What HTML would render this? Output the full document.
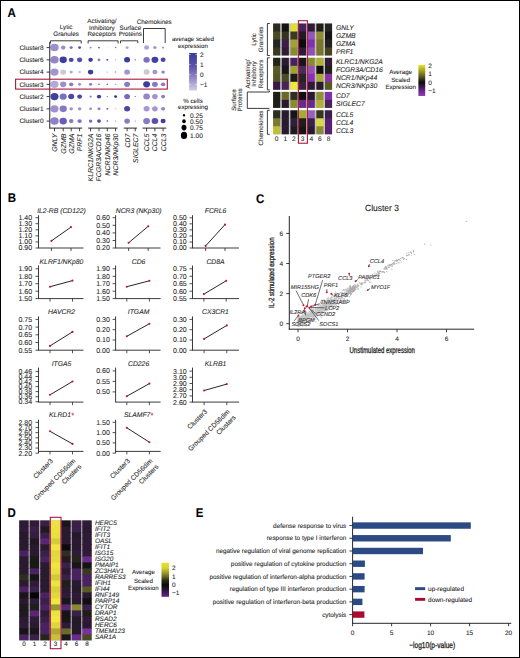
<!DOCTYPE html>
<html><head><meta charset="utf-8"><style>html,body{margin:0;padding:0;background:#fff;font-family:"Liberation Sans", sans-serif;}svg{display:block;}</style></head><body>
<svg width="520" height="658" viewBox="0 0 520 658" font-family="'Liberation Sans', sans-serif">
<style>text{stroke:#262626;stroke-width:0.08px;text-rendering:geometricPrecision;}</style>
<rect width="520" height="658" fill="#fff"/>
<text transform="translate(7.6,17.35) scale(0.91,1)" font-size="12.65" font-weight="bold" fill="#000">A</text>
<text transform="translate(7.7,202.2) scale(0.91,1)" font-size="12.65" font-weight="bold" fill="#000">B</text>
<text transform="translate(256.0,202.5) scale(0.91,1)" font-size="12.65" font-weight="bold" fill="#000">C</text>
<text transform="translate(7.6,516.8) scale(0.91,1)" font-size="12.65" font-weight="bold" fill="#000">D</text>
<text transform="translate(195.8,517.1) scale(0.91,1)" font-size="12.65" font-weight="bold" fill="#000">E</text>
<text x="43.60" y="49.90" font-size="6.5" text-anchor="end" fill="#262626" >Cluster8</text>
<line x1="46.60" y1="47.60" x2="49.75" y2="47.60" stroke="#262626" stroke-width="0.9"/>
<ellipse cx="54.50" cy="47.60" rx="4.16" ry="3.76" fill="#9d8ecd"/>
<ellipse cx="63.20" cy="47.60" rx="2.29" ry="2.07" fill="#9d8ecd"/>
<ellipse cx="71.20" cy="47.60" rx="1.56" ry="1.41" fill="#7a6ac0"/>
<ellipse cx="79.60" cy="47.60" rx="1.46" ry="1.32" fill="#5a4cb0"/>
<ellipse cx="90.60" cy="47.60" rx="1.04" ry="0.94" fill="#9080c8"/>
<ellipse cx="99.00" cy="47.60" rx="1.04" ry="0.94" fill="#7868bc"/>
<ellipse cx="107.30" cy="47.60" rx="0.47" ry="0.42" fill="#c0b8dc"/>
<ellipse cx="115.60" cy="47.60" rx="0.83" ry="0.75" fill="#8070c0"/>
<ellipse cx="127.10" cy="47.60" rx="1.56" ry="1.41" fill="#b0a4d8"/>
<ellipse cx="135.20" cy="47.60" rx="0.47" ry="0.42" fill="#c0b8dc"/>
<ellipse cx="146.60" cy="47.60" rx="2.50" ry="2.26" fill="#b0a4d8"/>
<ellipse cx="154.90" cy="47.60" rx="1.66" ry="1.50" fill="#a094d0"/>
<ellipse cx="163.10" cy="47.60" rx="1.14" ry="1.03" fill="#a094d0"/>
<text x="43.60" y="62.15" font-size="6.5" text-anchor="end" fill="#262626" >Cluster6</text>
<line x1="46.60" y1="59.85" x2="49.75" y2="59.85" stroke="#262626" stroke-width="0.9"/>
<ellipse cx="54.50" cy="59.85" rx="4.16" ry="3.76" fill="#9484c8"/>
<ellipse cx="63.20" cy="59.85" rx="3.64" ry="3.29" fill="#3c3d9c"/>
<ellipse cx="71.20" cy="59.85" rx="2.44" ry="2.21" fill="#4a48a4"/>
<ellipse cx="79.60" cy="59.85" rx="2.60" ry="2.35" fill="#5a50ac"/>
<ellipse cx="90.60" cy="59.85" rx="2.29" ry="2.07" fill="#3c3d9c"/>
<ellipse cx="99.00" cy="59.85" rx="1.46" ry="1.32" fill="#8a7ac4"/>
<ellipse cx="107.30" cy="59.85" rx="1.04" ry="0.94" fill="#4a48a4"/>
<ellipse cx="115.60" cy="59.85" rx="0.73" ry="0.66" fill="#b0a8d8"/>
<ellipse cx="127.10" cy="59.85" rx="3.02" ry="2.73" fill="#3c3d9c"/>
<ellipse cx="135.20" cy="59.85" rx="0.73" ry="0.66" fill="#5a50ac"/>
<ellipse cx="146.60" cy="59.85" rx="3.22" ry="2.91" fill="#8070c0"/>
<ellipse cx="154.90" cy="59.85" rx="3.43" ry="3.10" fill="#4040a0"/>
<ellipse cx="163.10" cy="59.85" rx="2.50" ry="2.26" fill="#4a48a4"/>
<text x="43.60" y="74.40" font-size="6.5" text-anchor="end" fill="#262626" >Cluster4</text>
<line x1="46.60" y1="72.10" x2="49.75" y2="72.10" stroke="#262626" stroke-width="0.9"/>
<ellipse cx="54.50" cy="72.10" rx="4.06" ry="3.67" fill="#a494d0"/>
<ellipse cx="63.20" cy="72.10" rx="2.91" ry="2.63" fill="#cbcbcf"/>
<ellipse cx="71.20" cy="72.10" rx="1.56" ry="1.41" fill="#b0a4d8"/>
<ellipse cx="79.60" cy="72.10" rx="1.46" ry="1.32" fill="#cbcbcf"/>
<ellipse cx="90.60" cy="72.10" rx="2.70" ry="2.44" fill="#3c3d9c"/>
<ellipse cx="99.00" cy="72.10" rx="0.57" ry="0.52" fill="#d0d0d4"/>
<ellipse cx="107.30" cy="72.10" rx="0.73" ry="0.66" fill="#b8b0dc"/>
<ellipse cx="115.60" cy="72.10" rx="0.83" ry="0.75" fill="#a094d0"/>
<ellipse cx="127.10" cy="72.10" rx="2.91" ry="2.63" fill="#a494d0"/>
<ellipse cx="135.20" cy="72.10" rx="0.42" ry="0.38" fill="#c8c0e0"/>
<ellipse cx="146.60" cy="72.10" rx="3.02" ry="2.73" fill="#cbcbcf"/>
<ellipse cx="154.90" cy="72.10" rx="2.50" ry="2.26" fill="#a494d0"/>
<ellipse cx="163.10" cy="72.10" rx="1.77" ry="1.60" fill="#9484c8"/>
<text x="43.60" y="86.65" font-size="6.5" text-anchor="end" fill="#262626" >Cluster3</text>
<line x1="46.60" y1="84.35" x2="49.75" y2="84.35" stroke="#262626" stroke-width="0.9"/>
<ellipse cx="54.50" cy="84.35" rx="4.06" ry="3.67" fill="#b4a8dc"/>
<ellipse cx="63.20" cy="84.35" rx="3.12" ry="2.82" fill="#9d8ecd"/>
<ellipse cx="71.20" cy="84.35" rx="2.18" ry="1.97" fill="#8a7ac4"/>
<ellipse cx="79.60" cy="84.35" rx="1.56" ry="1.41" fill="#9d8ecd"/>
<ellipse cx="90.60" cy="84.35" rx="1.56" ry="1.41" fill="#8a7ac4"/>
<ellipse cx="99.00" cy="84.35" rx="1.04" ry="0.94" fill="#9d8ecd"/>
<ellipse cx="107.30" cy="84.35" rx="0.83" ry="0.75" fill="#6a5cb8"/>
<ellipse cx="115.60" cy="84.35" rx="0.73" ry="0.66" fill="#9d8ecd"/>
<ellipse cx="127.10" cy="84.35" rx="2.91" ry="2.63" fill="#8a7ac4"/>
<ellipse cx="135.20" cy="84.35" rx="0.42" ry="0.38" fill="#a094d0"/>
<ellipse cx="146.60" cy="84.35" rx="3.43" ry="3.10" fill="#3c3d9c"/>
<ellipse cx="154.90" cy="84.35" rx="2.91" ry="2.63" fill="#8a7ac4"/>
<ellipse cx="163.10" cy="84.35" rx="2.18" ry="1.97" fill="#8a7ac4"/>
<text x="43.60" y="98.90" font-size="6.5" text-anchor="end" fill="#262626" >Cluster2</text>
<line x1="46.60" y1="96.60" x2="49.75" y2="96.60" stroke="#262626" stroke-width="0.9"/>
<ellipse cx="54.50" cy="96.60" rx="4.00" ry="3.62" fill="#3c429e"/>
<ellipse cx="63.20" cy="96.60" rx="3.54" ry="3.20" fill="#7a6ebf"/>
<ellipse cx="71.20" cy="96.60" rx="3.02" ry="2.73" fill="#4a48a4"/>
<ellipse cx="79.60" cy="96.60" rx="2.44" ry="2.21" fill="#4a48a4"/>
<ellipse cx="90.60" cy="96.60" rx="1.14" ry="1.03" fill="#9080c8"/>
<ellipse cx="99.00" cy="96.60" rx="2.18" ry="1.97" fill="#4040a0"/>
<ellipse cx="107.30" cy="96.60" rx="0.73" ry="0.66" fill="#8070c0"/>
<ellipse cx="115.60" cy="96.60" rx="1.46" ry="1.32" fill="#2e3494"/>
<ellipse cx="127.10" cy="96.60" rx="2.91" ry="2.63" fill="#7a6abc"/>
<ellipse cx="135.20" cy="96.60" rx="0.57" ry="0.52" fill="#3c3d9c"/>
<ellipse cx="146.60" cy="96.60" rx="3.33" ry="3.01" fill="#9484c8"/>
<ellipse cx="154.90" cy="96.60" rx="2.81" ry="2.54" fill="#a094d0"/>
<ellipse cx="163.10" cy="96.60" rx="1.98" ry="1.79" fill="#8a7ac4"/>
<text x="43.60" y="111.15" font-size="6.5" text-anchor="end" fill="#262626" >Cluster1</text>
<line x1="46.60" y1="108.85" x2="49.75" y2="108.85" stroke="#262626" stroke-width="0.9"/>
<ellipse cx="54.50" cy="108.85" rx="4.06" ry="3.67" fill="#a090d0"/>
<ellipse cx="63.20" cy="108.85" rx="3.64" ry="3.29" fill="#8878c4"/>
<ellipse cx="71.20" cy="108.85" rx="1.77" ry="1.60" fill="#a090d0"/>
<ellipse cx="79.60" cy="108.85" rx="1.77" ry="1.60" fill="#a090d0"/>
<ellipse cx="90.60" cy="108.85" rx="1.46" ry="1.32" fill="#a090d0"/>
<ellipse cx="99.00" cy="108.85" rx="1.56" ry="1.41" fill="#9080c8"/>
<ellipse cx="107.30" cy="108.85" rx="1.04" ry="0.94" fill="#6a5cb8"/>
<ellipse cx="115.60" cy="108.85" rx="0.73" ry="0.66" fill="#c0b8dc"/>
<ellipse cx="127.10" cy="108.85" rx="3.02" ry="2.73" fill="#4a48a4"/>
<ellipse cx="135.20" cy="108.85" rx="0.42" ry="0.38" fill="#a094d0"/>
<ellipse cx="146.60" cy="108.85" rx="3.02" ry="2.73" fill="#a898d4"/>
<ellipse cx="154.90" cy="108.85" rx="2.81" ry="2.54" fill="#a494d0"/>
<ellipse cx="163.10" cy="108.85" rx="1.98" ry="1.79" fill="#9484c8"/>
<text x="43.60" y="123.40" font-size="6.5" text-anchor="end" fill="#262626" >Cluster0</text>
<line x1="46.60" y1="121.10" x2="49.75" y2="121.10" stroke="#262626" stroke-width="0.9"/>
<ellipse cx="54.50" cy="121.10" rx="4.16" ry="3.76" fill="#9080c8"/>
<ellipse cx="63.20" cy="121.10" rx="3.74" ry="3.38" fill="#6a5cb4"/>
<ellipse cx="71.20" cy="121.10" rx="2.29" ry="2.07" fill="#8a7ac4"/>
<ellipse cx="79.60" cy="121.10" rx="2.18" ry="1.97" fill="#8070c0"/>
<ellipse cx="90.60" cy="121.10" rx="1.77" ry="1.60" fill="#7a6abc"/>
<ellipse cx="99.00" cy="121.10" rx="1.98" ry="1.79" fill="#5a4cac"/>
<ellipse cx="107.30" cy="121.10" rx="0.83" ry="0.75" fill="#4a48a4"/>
<ellipse cx="115.60" cy="121.10" rx="0.73" ry="0.66" fill="#a094d0"/>
<ellipse cx="127.10" cy="121.10" rx="2.81" ry="2.54" fill="#8a7ac4"/>
<ellipse cx="135.20" cy="121.10" rx="0.57" ry="0.52" fill="#8070c0"/>
<ellipse cx="146.60" cy="121.10" rx="3.43" ry="3.10" fill="#8a7ac4"/>
<ellipse cx="154.90" cy="121.10" rx="3.33" ry="3.01" fill="#5a50ac"/>
<ellipse cx="163.10" cy="121.10" rx="2.50" ry="2.26" fill="#3c3d9c"/>
<line x1="49.75" y1="42.00" x2="49.75" y2="128.60" stroke="#262626" stroke-width="1.0"/>
<line x1="49.75" y1="128.10" x2="82.20" y2="128.10" stroke="#262626" stroke-width="1.0"/>
<line x1="88.10" y1="128.10" x2="117.50" y2="128.10" stroke="#262626" stroke-width="1.0"/>
<line x1="123.75" y1="128.10" x2="137.00" y2="128.10" stroke="#262626" stroke-width="1.0"/>
<line x1="142.50" y1="128.10" x2="166.30" y2="128.10" stroke="#262626" stroke-width="1.0"/>
<line x1="54.50" y1="128.10" x2="54.50" y2="131.30" stroke="#262626" stroke-width="0.9"/>
<text transform="translate(56.95,133.6) rotate(-90)" font-size="6.95" text-anchor="end" font-style="italic" fill="#262626">GNLY</text>
<line x1="63.20" y1="128.10" x2="63.20" y2="131.30" stroke="#262626" stroke-width="0.9"/>
<text transform="translate(65.65,133.6) rotate(-90)" font-size="6.95" text-anchor="end" font-style="italic" fill="#262626">GZMB</text>
<line x1="71.20" y1="128.10" x2="71.20" y2="131.30" stroke="#262626" stroke-width="0.9"/>
<text transform="translate(73.65,133.6) rotate(-90)" font-size="6.95" text-anchor="end" font-style="italic" fill="#262626">GZMA</text>
<line x1="79.60" y1="128.10" x2="79.60" y2="131.30" stroke="#262626" stroke-width="0.9"/>
<text transform="translate(82.05,133.6) rotate(-90)" font-size="6.95" text-anchor="end" font-style="italic" fill="#262626">PRF1</text>
<line x1="90.60" y1="128.10" x2="90.60" y2="131.30" stroke="#262626" stroke-width="0.9"/>
<text transform="translate(93.05,133.6) rotate(-90)" font-size="6.95" text-anchor="end" font-style="italic" fill="#262626">KLRC1/NKG2A</text>
<line x1="99.00" y1="128.10" x2="99.00" y2="131.30" stroke="#262626" stroke-width="0.9"/>
<text transform="translate(101.45,133.6) rotate(-90)" font-size="6.95" text-anchor="end" font-style="italic" fill="#262626">FCGR3A/CD16</text>
<line x1="107.30" y1="128.10" x2="107.30" y2="131.30" stroke="#262626" stroke-width="0.9"/>
<text transform="translate(109.75,133.6) rotate(-90)" font-size="6.95" text-anchor="end" font-style="italic" fill="#262626">NCR1/NKp46</text>
<line x1="115.60" y1="128.10" x2="115.60" y2="131.30" stroke="#262626" stroke-width="0.9"/>
<text transform="translate(118.05,133.6) rotate(-90)" font-size="6.95" text-anchor="end" font-style="italic" fill="#262626">NCR3/NKp30</text>
<line x1="127.10" y1="128.10" x2="127.10" y2="131.30" stroke="#262626" stroke-width="0.9"/>
<text transform="translate(129.55,133.6) rotate(-90)" font-size="6.95" text-anchor="end" font-style="italic" fill="#262626">CD7</text>
<line x1="135.20" y1="128.10" x2="135.20" y2="131.30" stroke="#262626" stroke-width="0.9"/>
<text transform="translate(137.65,133.6) rotate(-90)" font-size="6.95" text-anchor="end" font-style="italic" fill="#262626">SIGLEC7</text>
<line x1="146.60" y1="128.10" x2="146.60" y2="131.30" stroke="#262626" stroke-width="0.9"/>
<text transform="translate(149.05,133.6) rotate(-90)" font-size="6.95" text-anchor="end" font-style="italic" fill="#262626">CCL5</text>
<line x1="154.90" y1="128.10" x2="154.90" y2="131.30" stroke="#262626" stroke-width="0.9"/>
<text transform="translate(157.35,133.6) rotate(-90)" font-size="6.95" text-anchor="end" font-style="italic" fill="#262626">CCL4</text>
<line x1="163.10" y1="128.10" x2="163.10" y2="131.30" stroke="#262626" stroke-width="0.9"/>
<text transform="translate(165.55,133.6) rotate(-90)" font-size="6.95" text-anchor="end" font-style="italic" fill="#262626">CCL3</text>
<path d="M50.4,43.5 V40.8 H81.2 V43.5" stroke="#262626" stroke-width="0.9" fill="none"/>
<path d="M88.1,43.5 V40.8 H118.1 V43.5" stroke="#262626" stroke-width="0.9" fill="none"/>
<path d="M120.5,43.2 V40.8 H137.8 V43.2" stroke="#262626" stroke-width="0.9" fill="none"/>
<path d="M143.5,43.0 V28.5 H165.2 V43.0" stroke="#262626" stroke-width="0.9" fill="none"/>
<text x="66.10" y="29.10" font-size="6.3" text-anchor="middle" fill="#262626" >Lytic</text>
<text x="66.10" y="35.60" font-size="6.3" text-anchor="middle" fill="#262626" >Granules</text>
<text x="101.90" y="23.30" font-size="6.3" text-anchor="middle" fill="#262626" >Activating/</text>
<text x="101.90" y="29.80" font-size="6.3" text-anchor="middle" fill="#262626" >Inhibitory</text>
<text x="101.90" y="36.30" font-size="6.3" text-anchor="middle" fill="#262626" >Receptors</text>
<text x="130.30" y="29.80" font-size="6.3" text-anchor="middle" fill="#262626" >Surface</text>
<text x="130.30" y="36.30" font-size="6.3" text-anchor="middle" fill="#262626" >Proteins</text>
<text x="154.20" y="24.30" font-size="6.3" text-anchor="middle" fill="#262626" >Chemokines</text>
<rect x="15.6" y="79.2" width="151.7" height="9.9" fill="none" stroke="#a8183c" stroke-width="1.1"/>
<text x="192.90" y="41.30" font-size="6.2" text-anchor="middle" fill="#262626" >average scaled</text>
<text x="192.90" y="47.60" font-size="6.2" text-anchor="middle" fill="#262626" >expression</text>
<defs><linearGradient id="gA" x1="0" y1="0" x2="0" y2="1"><stop offset="0" stop-color="#383c98"/><stop offset="0.35" stop-color="#5a52ac"/><stop offset="0.65" stop-color="#9284c6"/><stop offset="1" stop-color="#d2cce6"/></linearGradient><linearGradient id="gD" x1="0" y1="0" x2="0" y2="1"><stop offset="0" stop-color="#e8e426"/><stop offset="0.15" stop-color="#d6d430"/><stop offset="0.27" stop-color="#a8a630"/><stop offset="0.40" stop-color="#6e6c20"/><stop offset="0.52" stop-color="#2a2a14"/><stop offset="0.65" stop-color="#0a0a0a"/><stop offset="0.78" stop-color="#261432"/><stop offset="0.90" stop-color="#4c1c64"/><stop offset="1" stop-color="#6c1e8c"/></linearGradient><linearGradient id="gH" x1="0" y1="0" x2="0" y2="1"><stop offset="0" stop-color="#e6e41e"/><stop offset="0.29" stop-color="#7c7a24"/><stop offset="0.56" stop-color="#0c0c0c"/><stop offset="0.82" stop-color="#662388"/><stop offset="1" stop-color="#9243b2"/></linearGradient></defs>
<rect x="189.1" y="53.0" width="7.8" height="37.5" fill="url(#gA)"/>
<line x1="189.10" y1="54.40" x2="190.60" y2="54.40" stroke="#fff" stroke-width="0.6"/>
<line x1="195.40" y1="54.40" x2="196.90" y2="54.40" stroke="#fff" stroke-width="0.6"/>
<text x="199.90" y="56.70" font-size="6.5" text-anchor="start" fill="#262626" >2</text>
<line x1="189.10" y1="64.60" x2="190.60" y2="64.60" stroke="#fff" stroke-width="0.6"/>
<line x1="195.40" y1="64.60" x2="196.90" y2="64.60" stroke="#fff" stroke-width="0.6"/>
<text x="199.90" y="66.90" font-size="6.5" text-anchor="start" fill="#262626" >1</text>
<line x1="189.10" y1="74.60" x2="190.60" y2="74.60" stroke="#fff" stroke-width="0.6"/>
<line x1="195.40" y1="74.60" x2="196.90" y2="74.60" stroke="#fff" stroke-width="0.6"/>
<text x="199.90" y="76.90" font-size="6.5" text-anchor="start" fill="#262626" >0</text>
<line x1="189.10" y1="84.40" x2="190.60" y2="84.40" stroke="#fff" stroke-width="0.6"/>
<line x1="195.40" y1="84.40" x2="196.90" y2="84.40" stroke="#fff" stroke-width="0.6"/>
<text x="199.90" y="86.70" font-size="6.5" text-anchor="start" fill="#262626" >−1</text>
<text x="193.00" y="102.70" font-size="6.2" text-anchor="middle" fill="#262626" >% cells</text>
<text x="193.00" y="109.20" font-size="6.2" text-anchor="middle" fill="#262626" >expressing</text>
<ellipse cx="184.0" cy="115.2" rx="1.09" ry="1.24" fill="#000"/>
<text x="190.00" y="118.00" font-size="6.6" text-anchor="start" fill="#262626" >0.25</text>
<ellipse cx="184.0" cy="121.2" rx="1.80" ry="2.05" fill="#000"/>
<text x="190.00" y="124.20" font-size="6.6" text-anchor="start" fill="#262626" >0.50</text>
<ellipse cx="184.0" cy="127.6" rx="2.47" ry="2.81" fill="#000"/>
<text x="190.00" y="129.90" font-size="6.6" text-anchor="start" fill="#262626" >0.75</text>
<ellipse cx="184.0" cy="135.4" rx="3.13" ry="3.56" fill="#000"/>
<text x="190.00" y="138.20" font-size="6.6" text-anchor="start" fill="#262626" >1.00</text>
<rect x="273.40" y="23.50" width="58.40" height="32.00" fill="#c2c2c6"/>
<rect x="273.10" y="23.50" width="7.1" height="8.6" fill="#2c2c1e"/>
<rect x="281.75" y="23.50" width="7.1" height="8.6" fill="#131313"/>
<rect x="290.40" y="23.50" width="7.1" height="8.6" fill="#e0dc3e"/>
<rect x="299.05" y="23.50" width="7.1" height="8.6" fill="#44245a"/>
<rect x="307.70" y="23.50" width="7.1" height="8.6" fill="#2e1c34"/>
<rect x="316.35" y="23.50" width="7.1" height="8.6" fill="#1f1f18"/>
<rect x="325.00" y="23.50" width="7.1" height="8.6" fill="#262620"/>
<rect x="273.10" y="31.50" width="7.1" height="8.6" fill="#4c4a22"/>
<rect x="281.75" y="31.50" width="7.1" height="8.6" fill="#363420"/>
<rect x="290.40" y="31.50" width="7.1" height="8.6" fill="#3a3a20"/>
<rect x="299.05" y="31.50" width="7.1" height="8.6" fill="#201a24"/>
<rect x="307.70" y="31.50" width="7.1" height="8.6" fill="#9654b4"/>
<rect x="316.35" y="31.50" width="7.1" height="8.6" fill="#8e8e30"/>
<rect x="325.00" y="31.50" width="7.1" height="8.6" fill="#141414"/>
<rect x="273.10" y="39.50" width="7.1" height="8.6" fill="#262620"/>
<rect x="281.75" y="39.50" width="7.1" height="8.6" fill="#3c1c48"/>
<rect x="290.40" y="39.50" width="7.1" height="8.6" fill="#a0a034"/>
<rect x="299.05" y="39.50" width="7.1" height="8.6" fill="#0c0c0c"/>
<rect x="307.70" y="39.50" width="7.1" height="8.6" fill="#8430ac"/>
<rect x="316.35" y="39.50" width="7.1" height="8.6" fill="#78782c"/>
<rect x="325.00" y="39.50" width="7.1" height="8.6" fill="#222220"/>
<rect x="273.10" y="47.50" width="7.1" height="8.0" fill="#3a3a20"/>
<rect x="281.75" y="47.50" width="7.1" height="8.0" fill="#2e1c36"/>
<rect x="290.40" y="47.50" width="7.1" height="8.0" fill="#8a8a30"/>
<rect x="299.05" y="47.50" width="7.1" height="8.0" fill="#2e1c36"/>
<rect x="307.70" y="47.50" width="7.1" height="8.0" fill="#9050b0"/>
<rect x="316.35" y="47.50" width="7.1" height="8.0" fill="#76762e"/>
<rect x="325.00" y="47.50" width="7.1" height="8.0" fill="#46441f"/>
<rect x="273.40" y="57.80" width="58.40" height="32.00" fill="#c2c2c6"/>
<rect x="273.10" y="57.80" width="7.1" height="8.6" fill="#222218"/>
<rect x="281.75" y="57.80" width="7.1" height="8.6" fill="#2a1a2f"/>
<rect x="290.40" y="57.80" width="7.1" height="8.6" fill="#4a2060"/>
<rect x="299.05" y="57.80" width="7.1" height="8.6" fill="#181418"/>
<rect x="307.70" y="57.80" width="7.1" height="8.6" fill="#8a8a30"/>
<rect x="316.35" y="57.80" width="7.1" height="8.6" fill="#b0b035"/>
<rect x="325.00" y="57.80" width="7.1" height="8.6" fill="#301a38"/>
<rect x="273.10" y="65.80" width="7.1" height="8.6" fill="#5a5a25"/>
<rect x="281.75" y="65.80" width="7.1" height="8.6" fill="#181518"/>
<rect x="290.40" y="65.80" width="7.1" height="8.6" fill="#a0a035"/>
<rect x="299.05" y="65.80" width="7.1" height="8.6" fill="#4a2a5a"/>
<rect x="307.70" y="65.80" width="7.1" height="8.6" fill="#9a50b0"/>
<rect x="316.35" y="65.80" width="7.1" height="8.6" fill="#101010"/>
<rect x="325.00" y="65.80" width="7.1" height="8.6" fill="#20201a"/>
<rect x="273.10" y="73.80" width="7.1" height="8.6" fill="#555522"/>
<rect x="281.75" y="73.80" width="7.1" height="8.6" fill="#4a4a22"/>
<rect x="290.40" y="73.80" width="7.1" height="8.6" fill="#1a1a18"/>
<rect x="299.05" y="73.80" width="7.1" height="8.6" fill="#252520"/>
<rect x="307.70" y="73.80" width="7.1" height="8.6" fill="#8a30b0"/>
<rect x="316.35" y="73.80" width="7.1" height="8.6" fill="#aaaa35"/>
<rect x="325.00" y="73.80" width="7.1" height="8.6" fill="#8a30a8"/>
<rect x="273.10" y="81.80" width="7.1" height="8.0" fill="#3a1a45"/>
<rect x="281.75" y="81.80" width="7.1" height="8.0" fill="#4a2258"/>
<rect x="290.40" y="81.80" width="7.1" height="8.0" fill="#f0e838"/>
<rect x="299.05" y="81.80" width="7.1" height="8.0" fill="#3a2045"/>
<rect x="307.70" y="81.80" width="7.1" height="8.0" fill="#2f1a35"/>
<rect x="316.35" y="81.80" width="7.1" height="8.0" fill="#2a1a30"/>
<rect x="325.00" y="81.80" width="7.1" height="8.0" fill="#5a5a25"/>
<rect x="273.40" y="91.90" width="58.40" height="16.00" fill="#c2c2c6"/>
<rect x="273.10" y="91.90" width="7.1" height="8.6" fill="#1f1f18"/>
<rect x="281.75" y="91.90" width="7.1" height="8.6" fill="#6a6a28"/>
<rect x="290.40" y="91.90" width="7.1" height="8.6" fill="#2f2f20"/>
<rect x="299.05" y="91.90" width="7.1" height="8.6" fill="#101010"/>
<rect x="307.70" y="91.90" width="7.1" height="8.6" fill="#2a1a30"/>
<rect x="316.35" y="91.90" width="7.1" height="8.6" fill="#909035"/>
<rect x="325.00" y="91.90" width="7.1" height="8.6" fill="#8030a8"/>
<rect x="273.10" y="99.90" width="7.1" height="8.0" fill="#1f1f18"/>
<rect x="281.75" y="99.90" width="7.1" height="8.0" fill="#2a1a2f"/>
<rect x="290.40" y="99.90" width="7.1" height="8.0" fill="#8a8a30"/>
<rect x="299.05" y="99.90" width="7.1" height="8.0" fill="#6a2a8a"/>
<rect x="307.70" y="99.90" width="7.1" height="8.0" fill="#6a2a8a"/>
<rect x="316.35" y="99.90" width="7.1" height="8.0" fill="#b0b035"/>
<rect x="325.00" y="99.90" width="7.1" height="8.0" fill="#4a2258"/>
<rect x="273.40" y="110.30" width="58.40" height="24.00" fill="#c2c2c6"/>
<rect x="273.10" y="110.30" width="7.1" height="8.6" fill="#2f2f1f"/>
<rect x="281.75" y="110.30" width="7.1" height="8.6" fill="#2a1a30"/>
<rect x="290.40" y="110.30" width="7.1" height="8.6" fill="#151515"/>
<rect x="299.05" y="110.30" width="7.1" height="8.6" fill="#a8a835"/>
<rect x="307.70" y="110.30" width="7.1" height="8.6" fill="#a060b8"/>
<rect x="316.35" y="110.30" width="7.1" height="8.6" fill="#353520"/>
<rect x="325.00" y="110.30" width="7.1" height="8.6" fill="#3a1f48"/>
<rect x="273.10" y="118.30" width="7.1" height="8.6" fill="#7a7a30"/>
<rect x="281.75" y="118.30" width="7.1" height="8.6" fill="#2a1a30"/>
<rect x="290.40" y="118.30" width="7.1" height="8.6" fill="#2f1f38"/>
<rect x="299.05" y="118.30" width="7.1" height="8.6" fill="#1f1f18"/>
<rect x="307.70" y="118.30" width="7.1" height="8.6" fill="#3a1f48"/>
<rect x="316.35" y="118.30" width="7.1" height="8.6" fill="#d8d840"/>
<rect x="325.00" y="118.30" width="7.1" height="8.6" fill="#5a2070"/>
<rect x="273.10" y="126.30" width="7.1" height="8.0" fill="#c0c038"/>
<rect x="281.75" y="126.30" width="7.1" height="8.0" fill="#2a1a2f"/>
<rect x="290.40" y="126.30" width="7.1" height="8.0" fill="#1f1a22"/>
<rect x="299.05" y="126.30" width="7.1" height="8.0" fill="#151515"/>
<rect x="307.70" y="126.30" width="7.1" height="8.0" fill="#2a1a2f"/>
<rect x="316.35" y="126.30" width="7.1" height="8.0" fill="#8a8a30"/>
<rect x="325.00" y="126.30" width="7.1" height="8.0" fill="#5a2070"/>
<text x="336.00" y="29.90" font-size="6.8" text-anchor="start" font-style="italic" fill="#262626" >GNLY</text>
<text x="336.00" y="37.90" font-size="6.8" text-anchor="start" font-style="italic" fill="#262626" >GZMB</text>
<text x="336.00" y="45.90" font-size="6.8" text-anchor="start" font-style="italic" fill="#262626" >GZMA</text>
<text x="336.00" y="53.90" font-size="6.8" text-anchor="start" font-style="italic" fill="#262626" >PRF1</text>
<text x="336.00" y="64.20" font-size="6.8" text-anchor="start" font-style="italic" fill="#262626" >KLRC1/NKG2A</text>
<text x="336.00" y="72.20" font-size="6.8" text-anchor="start" font-style="italic" fill="#262626" >FCGR3A/CD16</text>
<text x="336.00" y="80.20" font-size="6.8" text-anchor="start" font-style="italic" fill="#262626" >NCR1/NKp44</text>
<text x="336.00" y="88.20" font-size="6.8" text-anchor="start" font-style="italic" fill="#262626" >NCR3/NKp30</text>
<text x="336.00" y="98.30" font-size="6.8" text-anchor="start" font-style="italic" fill="#262626" >CD7</text>
<text x="336.00" y="106.30" font-size="6.8" text-anchor="start" font-style="italic" fill="#262626" >SIGLEC7</text>
<text x="336.00" y="116.70" font-size="6.8" text-anchor="start" font-style="italic" fill="#262626" >CCL5</text>
<text x="336.00" y="124.70" font-size="6.8" text-anchor="start" font-style="italic" fill="#262626" >CCL4</text>
<text x="336.00" y="132.70" font-size="6.8" text-anchor="start" font-style="italic" fill="#262626" >CCL3</text>
<text x="276.65" y="141.20" font-size="6.6" text-anchor="middle" fill="#262626" >0</text>
<text x="285.30" y="141.20" font-size="6.6" text-anchor="middle" fill="#262626" >1</text>
<text x="293.95" y="141.20" font-size="6.6" text-anchor="middle" fill="#262626" >2</text>
<text x="302.60" y="141.20" font-size="6.6" text-anchor="middle" fill="#262626" >3</text>
<text x="311.25" y="141.20" font-size="6.6" text-anchor="middle" fill="#262626" >4</text>
<text x="319.90" y="141.20" font-size="6.6" text-anchor="middle" fill="#262626" >6</text>
<text x="328.55" y="141.20" font-size="6.6" text-anchor="middle" fill="#262626" >8</text>
<rect x="298.4" y="20.7" width="9.0" height="122.5" fill="none" stroke="#a8183c" stroke-width="1.1"/>
<path d="M269.8,23.5 H267.4 V55.5 H269.8" stroke="#262626" stroke-width="0.9" fill="none"/>
<path d="M269.8,57.8 H267.4 V89.9 H269.8" stroke="#262626" stroke-width="0.9" fill="none"/>
<path d="M269.8,110.3 H267.4 V134.3 H269.8" stroke="#262626" stroke-width="0.9" fill="none"/>
<path d="M269.4,90.9 V92.0 H247.3 V108.4 H269.4" stroke="#262626" stroke-width="0.9" fill="none"/>
<text transform="translate(256.20,39.40) rotate(-90)" font-size="6.3" text-anchor="middle" fill="#262626">Lytic</text>
<text transform="translate(262.60,39.40) rotate(-90)" font-size="6.3" text-anchor="middle" fill="#262626">Granules</text>
<text transform="translate(249.70,74.00) rotate(-90)" font-size="6.3" text-anchor="middle" fill="#262626">Activating/</text>
<text transform="translate(256.20,74.00) rotate(-90)" font-size="6.3" text-anchor="middle" fill="#262626">Inhibitory</text>
<text transform="translate(262.60,74.00) rotate(-90)" font-size="6.3" text-anchor="middle" fill="#262626">Receptors</text>
<text transform="translate(235.80,100.00) rotate(-90)" font-size="6.3" text-anchor="middle" fill="#262626">Surface</text>
<text transform="translate(242.20,100.00) rotate(-90)" font-size="6.3" text-anchor="middle" fill="#262626">Proteins</text>
<text transform="translate(262.50,128.00) rotate(-90)" font-size="6.3" text-anchor="middle" fill="#262626">Chemokines</text>
<text x="400.70" y="74.10" font-size="6.2" text-anchor="middle" fill="#262626" >Average</text>
<text x="400.70" y="81.80" font-size="6.2" text-anchor="middle" fill="#262626" >Scaled</text>
<text x="400.70" y="89.20" font-size="6.2" text-anchor="middle" fill="#262626" >Expression</text>
<rect x="418.4" y="65.0" width="6.8" height="31.0" fill="url(#gH)"/>
<text x="428.30" y="68.00" font-size="6.5" text-anchor="start" fill="#262626" >2</text>
<text x="428.30" y="76.30" font-size="6.5" text-anchor="start" fill="#262626" >1</text>
<text x="428.30" y="84.60" font-size="6.5" text-anchor="start" fill="#262626" >0</text>
<text x="428.30" y="92.80" font-size="6.5" text-anchor="start" fill="#262626" >−1</text>
<line x1="38.50" y1="215.20" x2="38.50" y2="248.00" stroke="#262626" stroke-width="0.9"/>
<line x1="38.05" y1="248.00" x2="83.50" y2="248.00" stroke="#262626" stroke-width="0.9"/>
<line x1="35.50" y1="217.70" x2="38.50" y2="217.70" stroke="#262626" stroke-width="0.8"/>
<text x="32.10" y="220.10" font-size="7.0" text-anchor="end" fill="#262626" >1.40</text>
<line x1="35.50" y1="223.70" x2="38.50" y2="223.70" stroke="#262626" stroke-width="0.8"/>
<text x="32.10" y="226.10" font-size="7.0" text-anchor="end" fill="#262626" >1.30</text>
<line x1="35.50" y1="229.80" x2="38.50" y2="229.80" stroke="#262626" stroke-width="0.8"/>
<text x="32.10" y="232.20" font-size="7.0" text-anchor="end" fill="#262626" >1.20</text>
<line x1="35.50" y1="235.90" x2="38.50" y2="235.90" stroke="#262626" stroke-width="0.8"/>
<text x="32.10" y="238.30" font-size="7.0" text-anchor="end" fill="#262626" >1.10</text>
<line x1="35.50" y1="241.90" x2="38.50" y2="241.90" stroke="#262626" stroke-width="0.8"/>
<text x="32.10" y="244.30" font-size="7.0" text-anchor="end" fill="#262626" >1.00</text>
<line x1="35.50" y1="248.00" x2="38.50" y2="248.00" stroke="#262626" stroke-width="0.8"/>
<text x="32.10" y="250.40" font-size="7.0" text-anchor="end" fill="#262626" >0.90</text>
<line x1="51.40" y1="248.00" x2="51.40" y2="251.00" stroke="#262626" stroke-width="0.8"/>
<line x1="71.00" y1="248.00" x2="71.00" y2="251.00" stroke="#262626" stroke-width="0.8"/>
<line x1="51.40" y1="240.90" x2="71.00" y2="227.10" stroke="#1a1a1a" stroke-width="0.95"/>
<circle cx="51.4" cy="240.9" r="1.05" fill="#c4122f"/><circle cx="71.0" cy="227.1" r="1.05" fill="#c4122f"/>
<text x="61.50" y="213.00" font-size="6.8" text-anchor="middle" font-style="italic" fill="#262626" >IL2-RB (CD122)</text>
<line x1="115.60" y1="215.20" x2="115.60" y2="248.00" stroke="#262626" stroke-width="0.9"/>
<line x1="115.15" y1="248.00" x2="160.60" y2="248.00" stroke="#262626" stroke-width="0.9"/>
<line x1="112.60" y1="217.70" x2="115.60" y2="217.70" stroke="#262626" stroke-width="0.8"/>
<text x="109.80" y="220.10" font-size="7.0" text-anchor="end" fill="#262626" >0.60</text>
<line x1="112.60" y1="225.30" x2="115.60" y2="225.30" stroke="#262626" stroke-width="0.8"/>
<text x="109.80" y="227.70" font-size="7.0" text-anchor="end" fill="#262626" >0.50</text>
<line x1="112.60" y1="232.90" x2="115.60" y2="232.90" stroke="#262626" stroke-width="0.8"/>
<text x="109.80" y="235.30" font-size="7.0" text-anchor="end" fill="#262626" >0.40</text>
<line x1="112.60" y1="240.50" x2="115.60" y2="240.50" stroke="#262626" stroke-width="0.8"/>
<text x="109.80" y="242.90" font-size="7.0" text-anchor="end" fill="#262626" >0.30</text>
<line x1="112.60" y1="248.00" x2="115.60" y2="248.00" stroke="#262626" stroke-width="0.8"/>
<text x="109.80" y="250.40" font-size="7.0" text-anchor="end" fill="#262626" >0.20</text>
<line x1="128.60" y1="248.00" x2="128.60" y2="251.00" stroke="#262626" stroke-width="0.8"/>
<line x1="148.20" y1="248.00" x2="148.20" y2="251.00" stroke="#262626" stroke-width="0.8"/>
<line x1="128.60" y1="242.80" x2="148.20" y2="226.30" stroke="#1a1a1a" stroke-width="0.95"/>
<circle cx="128.6" cy="242.8" r="1.05" fill="#c4122f"/><circle cx="148.2" cy="226.3" r="1.05" fill="#c4122f"/>
<text x="138.60" y="213.00" font-size="6.8" text-anchor="middle" font-style="italic" fill="#262626" >NCR3 (NKp30)</text>
<line x1="192.50" y1="215.20" x2="192.50" y2="248.00" stroke="#262626" stroke-width="0.9"/>
<line x1="192.05" y1="248.00" x2="239.00" y2="248.00" stroke="#262626" stroke-width="0.9"/>
<line x1="189.50" y1="217.80" x2="192.50" y2="217.80" stroke="#262626" stroke-width="0.8"/>
<text x="186.70" y="220.20" font-size="7.0" text-anchor="end" fill="#262626" >0.50</text>
<line x1="189.50" y1="223.85" x2="192.50" y2="223.85" stroke="#262626" stroke-width="0.8"/>
<text x="186.70" y="226.25" font-size="7.0" text-anchor="end" fill="#262626" >0.40</text>
<line x1="189.50" y1="229.90" x2="192.50" y2="229.90" stroke="#262626" stroke-width="0.8"/>
<text x="186.70" y="232.30" font-size="7.0" text-anchor="end" fill="#262626" >0.30</text>
<line x1="189.50" y1="235.95" x2="192.50" y2="235.95" stroke="#262626" stroke-width="0.8"/>
<text x="186.70" y="238.35" font-size="7.0" text-anchor="end" fill="#262626" >0.20</text>
<line x1="189.50" y1="242.00" x2="192.50" y2="242.00" stroke="#262626" stroke-width="0.8"/>
<text x="186.70" y="244.40" font-size="7.0" text-anchor="end" fill="#262626" >0.10</text>
<line x1="189.50" y1="248.00" x2="192.50" y2="248.00" stroke="#262626" stroke-width="0.8"/>
<text x="186.70" y="250.40" font-size="7.0" text-anchor="end" fill="#262626" >0.00</text>
<line x1="205.60" y1="248.00" x2="205.60" y2="251.00" stroke="#262626" stroke-width="0.8"/>
<line x1="225.00" y1="248.00" x2="225.00" y2="251.00" stroke="#262626" stroke-width="0.8"/>
<line x1="205.60" y1="245.90" x2="225.00" y2="224.60" stroke="#1a1a1a" stroke-width="0.95"/>
<circle cx="205.6" cy="245.9" r="1.05" fill="#c4122f"/><circle cx="225.0" cy="224.6" r="1.05" fill="#c4122f"/>
<text x="215.50" y="213.00" font-size="6.8" text-anchor="middle" font-style="italic" fill="#262626" >FCRL6</text>
<line x1="38.50" y1="265.50" x2="38.50" y2="298.60" stroke="#262626" stroke-width="0.9"/>
<line x1="38.05" y1="298.60" x2="83.50" y2="298.60" stroke="#262626" stroke-width="0.9"/>
<line x1="35.50" y1="268.80" x2="38.50" y2="268.80" stroke="#262626" stroke-width="0.8"/>
<text x="32.10" y="271.20" font-size="7.0" text-anchor="end" fill="#262626" >1.90</text>
<line x1="35.50" y1="276.30" x2="38.50" y2="276.30" stroke="#262626" stroke-width="0.8"/>
<text x="32.10" y="278.70" font-size="7.0" text-anchor="end" fill="#262626" >1.80</text>
<line x1="35.50" y1="283.70" x2="38.50" y2="283.70" stroke="#262626" stroke-width="0.8"/>
<text x="32.10" y="286.10" font-size="7.0" text-anchor="end" fill="#262626" >1.70</text>
<line x1="35.50" y1="291.20" x2="38.50" y2="291.20" stroke="#262626" stroke-width="0.8"/>
<text x="32.10" y="293.60" font-size="7.0" text-anchor="end" fill="#262626" >1.60</text>
<line x1="35.50" y1="298.60" x2="38.50" y2="298.60" stroke="#262626" stroke-width="0.8"/>
<text x="32.10" y="301.00" font-size="7.0" text-anchor="end" fill="#262626" >1.50</text>
<line x1="50.00" y1="298.60" x2="50.00" y2="301.60" stroke="#262626" stroke-width="0.8"/>
<line x1="72.50" y1="298.60" x2="72.50" y2="301.60" stroke="#262626" stroke-width="0.8"/>
<line x1="50.00" y1="286.70" x2="72.50" y2="280.60" stroke="#1a1a1a" stroke-width="0.95"/>
<circle cx="50.0" cy="286.7" r="1.05" fill="#c4122f"/><circle cx="72.5" cy="280.6" r="1.05" fill="#c4122f"/>
<text x="61.50" y="263.70" font-size="6.8" text-anchor="middle" font-style="italic" fill="#262626" >KLRF1/NKp80</text>
<line x1="115.60" y1="265.50" x2="115.60" y2="298.60" stroke="#262626" stroke-width="0.9"/>
<line x1="115.15" y1="298.60" x2="160.60" y2="298.60" stroke="#262626" stroke-width="0.9"/>
<line x1="112.60" y1="268.80" x2="115.60" y2="268.80" stroke="#262626" stroke-width="0.8"/>
<text x="109.80" y="271.20" font-size="7.0" text-anchor="end" fill="#262626" >1.90</text>
<line x1="112.60" y1="276.30" x2="115.60" y2="276.30" stroke="#262626" stroke-width="0.8"/>
<text x="109.80" y="278.70" font-size="7.0" text-anchor="end" fill="#262626" >1.80</text>
<line x1="112.60" y1="283.70" x2="115.60" y2="283.70" stroke="#262626" stroke-width="0.8"/>
<text x="109.80" y="286.10" font-size="7.0" text-anchor="end" fill="#262626" >1.70</text>
<line x1="112.60" y1="291.20" x2="115.60" y2="291.20" stroke="#262626" stroke-width="0.8"/>
<text x="109.80" y="293.60" font-size="7.0" text-anchor="end" fill="#262626" >1.60</text>
<line x1="112.60" y1="298.60" x2="115.60" y2="298.60" stroke="#262626" stroke-width="0.8"/>
<text x="109.80" y="301.00" font-size="7.0" text-anchor="end" fill="#262626" >1.50</text>
<line x1="126.80" y1="298.60" x2="126.80" y2="301.60" stroke="#262626" stroke-width="0.8"/>
<line x1="149.40" y1="298.60" x2="149.40" y2="301.60" stroke="#262626" stroke-width="0.8"/>
<line x1="126.80" y1="286.70" x2="149.40" y2="280.80" stroke="#1a1a1a" stroke-width="0.95"/>
<circle cx="126.8" cy="286.7" r="1.05" fill="#c4122f"/><circle cx="149.4" cy="280.8" r="1.05" fill="#c4122f"/>
<text x="138.60" y="263.70" font-size="6.8" text-anchor="middle" font-style="italic" fill="#262626" >CD6</text>
<line x1="192.50" y1="265.50" x2="192.50" y2="298.60" stroke="#262626" stroke-width="0.9"/>
<line x1="192.05" y1="298.60" x2="239.00" y2="298.60" stroke="#262626" stroke-width="0.9"/>
<line x1="189.50" y1="268.80" x2="192.50" y2="268.80" stroke="#262626" stroke-width="0.8"/>
<text x="186.70" y="271.20" font-size="7.0" text-anchor="end" fill="#262626" >0.75</text>
<line x1="189.50" y1="276.30" x2="192.50" y2="276.30" stroke="#262626" stroke-width="0.8"/>
<text x="186.70" y="278.70" font-size="7.0" text-anchor="end" fill="#262626" >0.70</text>
<line x1="189.50" y1="283.70" x2="192.50" y2="283.70" stroke="#262626" stroke-width="0.8"/>
<text x="186.70" y="286.10" font-size="7.0" text-anchor="end" fill="#262626" >0.65</text>
<line x1="189.50" y1="291.20" x2="192.50" y2="291.20" stroke="#262626" stroke-width="0.8"/>
<text x="186.70" y="293.60" font-size="7.0" text-anchor="end" fill="#262626" >0.60</text>
<line x1="189.50" y1="298.60" x2="192.50" y2="298.60" stroke="#262626" stroke-width="0.8"/>
<text x="186.70" y="301.00" font-size="7.0" text-anchor="end" fill="#262626" >0.55</text>
<line x1="203.90" y1="298.60" x2="203.90" y2="301.60" stroke="#262626" stroke-width="0.8"/>
<line x1="226.20" y1="298.60" x2="226.20" y2="301.60" stroke="#262626" stroke-width="0.8"/>
<line x1="203.90" y1="294.10" x2="226.20" y2="280.80" stroke="#1a1a1a" stroke-width="0.95"/>
<circle cx="203.9" cy="294.1" r="1.05" fill="#c4122f"/><circle cx="226.2" cy="280.8" r="1.05" fill="#c4122f"/>
<text x="215.50" y="263.70" font-size="6.8" text-anchor="middle" font-style="italic" fill="#262626" >CD8A</text>
<line x1="38.50" y1="316.40" x2="38.50" y2="350.20" stroke="#262626" stroke-width="0.9"/>
<line x1="38.05" y1="350.20" x2="83.50" y2="350.20" stroke="#262626" stroke-width="0.9"/>
<line x1="35.50" y1="319.40" x2="38.50" y2="319.40" stroke="#262626" stroke-width="0.8"/>
<text x="32.10" y="321.80" font-size="7.0" text-anchor="end" fill="#262626" >0.75</text>
<line x1="35.50" y1="327.10" x2="38.50" y2="327.10" stroke="#262626" stroke-width="0.8"/>
<text x="32.10" y="329.50" font-size="7.0" text-anchor="end" fill="#262626" >0.70</text>
<line x1="35.50" y1="334.80" x2="38.50" y2="334.80" stroke="#262626" stroke-width="0.8"/>
<text x="32.10" y="337.20" font-size="7.0" text-anchor="end" fill="#262626" >0.65</text>
<line x1="35.50" y1="342.50" x2="38.50" y2="342.50" stroke="#262626" stroke-width="0.8"/>
<text x="32.10" y="344.90" font-size="7.0" text-anchor="end" fill="#262626" >0.60</text>
<line x1="35.50" y1="350.20" x2="38.50" y2="350.20" stroke="#262626" stroke-width="0.8"/>
<text x="32.10" y="352.60" font-size="7.0" text-anchor="end" fill="#262626" >0.55</text>
<line x1="50.00" y1="350.20" x2="50.00" y2="353.20" stroke="#262626" stroke-width="0.8"/>
<line x1="72.50" y1="350.20" x2="72.50" y2="353.20" stroke="#262626" stroke-width="0.8"/>
<line x1="50.00" y1="345.90" x2="72.50" y2="331.90" stroke="#1a1a1a" stroke-width="0.95"/>
<circle cx="50.0" cy="345.9" r="1.05" fill="#c4122f"/><circle cx="72.5" cy="331.9" r="1.05" fill="#c4122f"/>
<text x="61.50" y="314.40" font-size="6.8" text-anchor="middle" font-style="italic" fill="#262626" >HAVCR2</text>
<line x1="115.60" y1="316.40" x2="115.60" y2="350.20" stroke="#262626" stroke-width="0.9"/>
<line x1="115.15" y1="350.20" x2="160.60" y2="350.20" stroke="#262626" stroke-width="0.9"/>
<line x1="112.60" y1="319.40" x2="115.60" y2="319.40" stroke="#262626" stroke-width="0.8"/>
<text x="109.80" y="321.80" font-size="7.0" text-anchor="end" fill="#262626" >0.30</text>
<line x1="112.60" y1="329.70" x2="115.60" y2="329.70" stroke="#262626" stroke-width="0.8"/>
<text x="109.80" y="332.10" font-size="7.0" text-anchor="end" fill="#262626" >0.20</text>
<line x1="112.60" y1="340.00" x2="115.60" y2="340.00" stroke="#262626" stroke-width="0.8"/>
<text x="109.80" y="342.40" font-size="7.0" text-anchor="end" fill="#262626" >0.10</text>
<line x1="112.60" y1="350.20" x2="115.60" y2="350.20" stroke="#262626" stroke-width="0.8"/>
<text x="109.80" y="352.60" font-size="7.0" text-anchor="end" fill="#262626" >0.00</text>
<line x1="126.80" y1="350.20" x2="126.80" y2="353.20" stroke="#262626" stroke-width="0.8"/>
<line x1="149.40" y1="350.20" x2="149.40" y2="353.20" stroke="#262626" stroke-width="0.8"/>
<line x1="126.80" y1="336.30" x2="149.40" y2="323.70" stroke="#1a1a1a" stroke-width="0.95"/>
<circle cx="126.8" cy="336.3" r="1.05" fill="#c4122f"/><circle cx="149.4" cy="323.7" r="1.05" fill="#c4122f"/>
<text x="138.60" y="314.40" font-size="6.8" text-anchor="middle" font-style="italic" fill="#262626" >ITGAM</text>
<line x1="192.50" y1="316.40" x2="192.50" y2="350.20" stroke="#262626" stroke-width="0.9"/>
<line x1="192.05" y1="350.20" x2="239.00" y2="350.20" stroke="#262626" stroke-width="0.9"/>
<line x1="189.50" y1="319.40" x2="192.50" y2="319.40" stroke="#262626" stroke-width="0.8"/>
<text x="186.70" y="321.80" font-size="7.0" text-anchor="end" fill="#262626" >0.30</text>
<line x1="189.50" y1="329.70" x2="192.50" y2="329.70" stroke="#262626" stroke-width="0.8"/>
<text x="186.70" y="332.10" font-size="7.0" text-anchor="end" fill="#262626" >0.20</text>
<line x1="189.50" y1="340.00" x2="192.50" y2="340.00" stroke="#262626" stroke-width="0.8"/>
<text x="186.70" y="342.40" font-size="7.0" text-anchor="end" fill="#262626" >0.10</text>
<line x1="189.50" y1="350.20" x2="192.50" y2="350.20" stroke="#262626" stroke-width="0.8"/>
<text x="186.70" y="352.60" font-size="7.0" text-anchor="end" fill="#262626" >0.00</text>
<line x1="204.10" y1="350.20" x2="204.10" y2="353.20" stroke="#262626" stroke-width="0.8"/>
<line x1="226.80" y1="350.20" x2="226.80" y2="353.20" stroke="#262626" stroke-width="0.8"/>
<line x1="204.10" y1="338.90" x2="226.80" y2="325.40" stroke="#1a1a1a" stroke-width="0.95"/>
<circle cx="204.1" cy="338.9" r="1.05" fill="#c4122f"/><circle cx="226.8" cy="325.4" r="1.05" fill="#c4122f"/>
<text x="215.50" y="314.40" font-size="6.8" text-anchor="middle" font-style="italic" fill="#262626" >CX3CR1</text>
<line x1="38.50" y1="367.60" x2="38.50" y2="402.10" stroke="#262626" stroke-width="0.9"/>
<line x1="38.05" y1="402.10" x2="83.50" y2="402.10" stroke="#262626" stroke-width="0.9"/>
<line x1="35.50" y1="371.40" x2="38.50" y2="371.40" stroke="#262626" stroke-width="0.8"/>
<text x="32.10" y="373.80" font-size="7.0" text-anchor="end" fill="#262626" >0.46</text>
<line x1="35.50" y1="376.50" x2="38.50" y2="376.50" stroke="#262626" stroke-width="0.8"/>
<text x="32.10" y="378.90" font-size="7.0" text-anchor="end" fill="#262626" >0.44</text>
<line x1="35.50" y1="381.50" x2="38.50" y2="381.50" stroke="#262626" stroke-width="0.8"/>
<text x="32.10" y="383.90" font-size="7.0" text-anchor="end" fill="#262626" >0.42</text>
<line x1="35.50" y1="386.60" x2="38.50" y2="386.60" stroke="#262626" stroke-width="0.8"/>
<text x="32.10" y="389.00" font-size="7.0" text-anchor="end" fill="#262626" >0.40</text>
<line x1="35.50" y1="391.60" x2="38.50" y2="391.60" stroke="#262626" stroke-width="0.8"/>
<text x="32.10" y="394.00" font-size="7.0" text-anchor="end" fill="#262626" >0.38</text>
<line x1="35.50" y1="396.70" x2="38.50" y2="396.70" stroke="#262626" stroke-width="0.8"/>
<text x="32.10" y="399.10" font-size="7.0" text-anchor="end" fill="#262626" >0.36</text>
<line x1="35.50" y1="401.70" x2="38.50" y2="401.70" stroke="#262626" stroke-width="0.8"/>
<text x="32.10" y="404.10" font-size="7.0" text-anchor="end" fill="#262626" >0.34</text>
<line x1="50.00" y1="402.10" x2="50.00" y2="405.10" stroke="#262626" stroke-width="0.8"/>
<line x1="72.50" y1="402.10" x2="72.50" y2="405.10" stroke="#262626" stroke-width="0.8"/>
<line x1="50.00" y1="394.80" x2="72.50" y2="381.50" stroke="#1a1a1a" stroke-width="0.95"/>
<circle cx="50.0" cy="394.8" r="1.05" fill="#c4122f"/><circle cx="72.5" cy="381.5" r="1.05" fill="#c4122f"/>
<text x="61.50" y="365.90" font-size="6.8" text-anchor="middle" font-style="italic" fill="#262626" >ITGA5</text>
<line x1="115.60" y1="367.60" x2="115.60" y2="402.10" stroke="#262626" stroke-width="0.9"/>
<line x1="115.15" y1="402.10" x2="160.60" y2="402.10" stroke="#262626" stroke-width="0.9"/>
<line x1="112.60" y1="370.90" x2="115.60" y2="370.90" stroke="#262626" stroke-width="0.8"/>
<text x="109.80" y="373.30" font-size="7.0" text-anchor="end" fill="#262626" >0.60</text>
<line x1="112.60" y1="381.40" x2="115.60" y2="381.40" stroke="#262626" stroke-width="0.8"/>
<text x="109.80" y="383.80" font-size="7.0" text-anchor="end" fill="#262626" >0.55</text>
<line x1="112.60" y1="391.90" x2="115.60" y2="391.90" stroke="#262626" stroke-width="0.8"/>
<text x="109.80" y="394.30" font-size="7.0" text-anchor="end" fill="#262626" >0.50</text>
<line x1="126.80" y1="402.10" x2="126.80" y2="405.10" stroke="#262626" stroke-width="0.8"/>
<line x1="149.40" y1="402.10" x2="149.40" y2="405.10" stroke="#262626" stroke-width="0.8"/>
<line x1="126.80" y1="396.20" x2="149.40" y2="383.60" stroke="#1a1a1a" stroke-width="0.95"/>
<circle cx="126.8" cy="396.2" r="1.05" fill="#c4122f"/><circle cx="149.4" cy="383.6" r="1.05" fill="#c4122f"/>
<text x="138.60" y="365.90" font-size="6.8" text-anchor="middle" font-style="italic" fill="#262626" >CD226</text>
<line x1="192.50" y1="367.60" x2="192.50" y2="402.10" stroke="#262626" stroke-width="0.9"/>
<line x1="192.05" y1="402.10" x2="239.00" y2="402.10" stroke="#262626" stroke-width="0.9"/>
<line x1="189.50" y1="371.10" x2="192.50" y2="371.10" stroke="#262626" stroke-width="0.8"/>
<text x="186.70" y="373.50" font-size="7.0" text-anchor="end" fill="#262626" >3.10</text>
<line x1="189.50" y1="377.30" x2="192.50" y2="377.30" stroke="#262626" stroke-width="0.8"/>
<text x="186.70" y="379.70" font-size="7.0" text-anchor="end" fill="#262626" >3.00</text>
<line x1="189.50" y1="383.50" x2="192.50" y2="383.50" stroke="#262626" stroke-width="0.8"/>
<text x="186.70" y="385.90" font-size="7.0" text-anchor="end" fill="#262626" >2.90</text>
<line x1="189.50" y1="389.70" x2="192.50" y2="389.70" stroke="#262626" stroke-width="0.8"/>
<text x="186.70" y="392.10" font-size="7.0" text-anchor="end" fill="#262626" >2.80</text>
<line x1="189.50" y1="395.90" x2="192.50" y2="395.90" stroke="#262626" stroke-width="0.8"/>
<text x="186.70" y="398.30" font-size="7.0" text-anchor="end" fill="#262626" >2.70</text>
<line x1="189.50" y1="402.10" x2="192.50" y2="402.10" stroke="#262626" stroke-width="0.8"/>
<text x="186.70" y="404.50" font-size="7.0" text-anchor="end" fill="#262626" >2.60</text>
<line x1="204.10" y1="402.10" x2="204.10" y2="405.10" stroke="#262626" stroke-width="0.8"/>
<line x1="226.80" y1="402.10" x2="226.80" y2="405.10" stroke="#262626" stroke-width="0.8"/>
<line x1="204.10" y1="390.50" x2="226.80" y2="384.10" stroke="#1a1a1a" stroke-width="0.95"/>
<circle cx="204.1" cy="390.5" r="1.05" fill="#c4122f"/><circle cx="226.8" cy="384.1" r="1.05" fill="#c4122f"/>
<text x="215.50" y="365.90" font-size="6.8" text-anchor="middle" font-style="italic" fill="#262626" >KLRB1</text>
<line x1="38.50" y1="419.80" x2="38.50" y2="453.20" stroke="#262626" stroke-width="0.9"/>
<line x1="38.05" y1="451.40" x2="83.50" y2="451.40" stroke="#262626" stroke-width="0.9"/>
<line x1="35.50" y1="422.30" x2="38.50" y2="422.30" stroke="#262626" stroke-width="0.8"/>
<text x="32.10" y="424.70" font-size="7.0" text-anchor="end" fill="#262626" >2.80</text>
<line x1="35.50" y1="427.45" x2="38.50" y2="427.45" stroke="#262626" stroke-width="0.8"/>
<text x="32.10" y="429.85" font-size="7.0" text-anchor="end" fill="#262626" >2.70</text>
<line x1="35.50" y1="432.60" x2="38.50" y2="432.60" stroke="#262626" stroke-width="0.8"/>
<text x="32.10" y="435.00" font-size="7.0" text-anchor="end" fill="#262626" >2.60</text>
<line x1="35.50" y1="437.75" x2="38.50" y2="437.75" stroke="#262626" stroke-width="0.8"/>
<text x="32.10" y="440.15" font-size="7.0" text-anchor="end" fill="#262626" >2.50</text>
<line x1="35.50" y1="442.90" x2="38.50" y2="442.90" stroke="#262626" stroke-width="0.8"/>
<text x="32.10" y="445.30" font-size="7.0" text-anchor="end" fill="#262626" >2.40</text>
<line x1="35.50" y1="448.05" x2="38.50" y2="448.05" stroke="#262626" stroke-width="0.8"/>
<text x="32.10" y="450.45" font-size="7.0" text-anchor="end" fill="#262626" >2.30</text>
<line x1="35.50" y1="453.20" x2="38.50" y2="453.20" stroke="#262626" stroke-width="0.8"/>
<text x="32.10" y="455.60" font-size="7.0" text-anchor="end" fill="#262626" >2.20</text>
<line x1="50.00" y1="451.40" x2="50.00" y2="454.40" stroke="#262626" stroke-width="0.8"/>
<line x1="72.50" y1="451.40" x2="72.50" y2="454.40" stroke="#262626" stroke-width="0.8"/>
<line x1="50.00" y1="431.30" x2="72.50" y2="443.90" stroke="#1a1a1a" stroke-width="0.95"/>
<circle cx="50.0" cy="431.3" r="1.05" fill="#c4122f"/><circle cx="72.5" cy="443.9" r="1.05" fill="#c4122f"/>
<text x="61.50" y="417.4" font-size="6.8" text-anchor="middle" font-style="italic" fill="#262626">KLRD1<tspan fill="#c4122f" font-size="7.5" dy="0.6" style="stroke:#c4122f">*</tspan></text>
<line x1="115.60" y1="419.80" x2="115.60" y2="453.20" stroke="#262626" stroke-width="0.9"/>
<line x1="115.15" y1="451.40" x2="160.60" y2="451.40" stroke="#262626" stroke-width="0.9"/>
<line x1="112.60" y1="422.30" x2="115.60" y2="422.30" stroke="#262626" stroke-width="0.8"/>
<text x="109.80" y="424.70" font-size="7.0" text-anchor="end" fill="#262626" >1.50</text>
<line x1="112.60" y1="432.60" x2="115.60" y2="432.60" stroke="#262626" stroke-width="0.8"/>
<text x="109.80" y="435.00" font-size="7.0" text-anchor="end" fill="#262626" >1.00</text>
<line x1="112.60" y1="442.90" x2="115.60" y2="442.90" stroke="#262626" stroke-width="0.8"/>
<text x="109.80" y="445.30" font-size="7.0" text-anchor="end" fill="#262626" >0.50</text>
<line x1="112.60" y1="453.20" x2="115.60" y2="453.20" stroke="#262626" stroke-width="0.8"/>
<text x="109.80" y="455.60" font-size="7.0" text-anchor="end" fill="#262626" >0.00</text>
<line x1="126.80" y1="451.40" x2="126.80" y2="454.40" stroke="#262626" stroke-width="0.8"/>
<line x1="149.40" y1="451.40" x2="149.40" y2="454.40" stroke="#262626" stroke-width="0.8"/>
<line x1="126.80" y1="427.80" x2="149.40" y2="442.20" stroke="#1a1a1a" stroke-width="0.95"/>
<circle cx="126.8" cy="427.8" r="1.05" fill="#c4122f"/><circle cx="149.4" cy="442.2" r="1.05" fill="#c4122f"/>
<text x="138.60" y="417.4" font-size="6.8" text-anchor="middle" font-style="italic" fill="#262626">SLAMF7<tspan fill="#c4122f" font-size="7.5" dy="0.6" style="stroke:#c4122f">*</tspan></text>
<text transform="translate(53.50,461.30) rotate(-45)" font-size="6.7" text-anchor="end" fill="#262626"><tspan x="0" y="0.0">Cluster3</tspan></text>
<text transform="translate(76.00,461.30) rotate(-45)" font-size="6.7" text-anchor="end" fill="#262626"><tspan x="0" y="0.0">Grouped CD56dim</tspan><tspan x="0" y="8.4">Clusters</tspan></text>
<text transform="translate(130.30,461.30) rotate(-45)" font-size="6.7" text-anchor="end" fill="#262626"><tspan x="0" y="0.0">Cluster3</tspan></text>
<text transform="translate(152.90,461.30) rotate(-45)" font-size="6.7" text-anchor="end" fill="#262626"><tspan x="0" y="0.0">Grouped CD56dim</tspan><tspan x="0" y="8.4">Clusters</tspan></text>
<text transform="translate(207.60,412.00) rotate(-45)" font-size="6.7" text-anchor="end" fill="#262626"><tspan x="0" y="0.0">Cluster3</tspan></text>
<text transform="translate(230.30,412.00) rotate(-45)" font-size="6.7" text-anchor="end" fill="#262626"><tspan x="0" y="0.0">Grouped CD56dim</tspan><tspan x="0" y="8.4">Clusters</tspan></text>
<g fill="#c4c4c4"><circle cx="300.0" cy="322.6" r="0.6"/><circle cx="330.6" cy="303.9" r="0.6"/><circle cx="310.5" cy="312.5" r="0.6"/><circle cx="298.9" cy="321.9" r="0.6"/><circle cx="324.1" cy="305.6" r="0.6"/><circle cx="331.7" cy="301.5" r="0.6"/><circle cx="328.1" cy="304.7" r="0.6"/><circle cx="299.4" cy="324.3" r="0.6"/><circle cx="313.4" cy="308.8" r="0.6"/><circle cx="330.9" cy="303.8" r="0.6"/><circle cx="301.2" cy="321.5" r="0.6"/><circle cx="332.8" cy="303.2" r="0.6"/><circle cx="303.7" cy="316.2" r="0.6"/><circle cx="342.8" cy="295.3" r="0.6"/><circle cx="328.1" cy="303.2" r="0.6"/><circle cx="320.8" cy="309.3" r="0.6"/><circle cx="309.8" cy="311.8" r="0.6"/><circle cx="338.0" cy="297.4" r="0.6"/><circle cx="333.8" cy="304.7" r="0.6"/><circle cx="318.4" cy="309.9" r="0.6"/><circle cx="316.9" cy="313.6" r="0.6"/><circle cx="308.9" cy="315.8" r="0.6"/><circle cx="321.3" cy="307.5" r="0.6"/><circle cx="302.3" cy="325.1" r="0.6"/><circle cx="308.4" cy="313.1" r="0.6"/><circle cx="307.3" cy="322.7" r="0.6"/><circle cx="326.8" cy="303.8" r="0.6"/><circle cx="301.9" cy="321.3" r="0.6"/><circle cx="309.7" cy="317.9" r="0.6"/><circle cx="307.4" cy="318.6" r="0.6"/><circle cx="312.8" cy="309.9" r="0.6"/><circle cx="314.8" cy="314.1" r="0.6"/><circle cx="321.3" cy="304.8" r="0.6"/><circle cx="306.7" cy="314.6" r="0.6"/><circle cx="298.6" cy="320.4" r="0.6"/><circle cx="300.3" cy="322.3" r="0.6"/><circle cx="300.0" cy="321.2" r="0.6"/><circle cx="305.6" cy="312.8" r="0.6"/><circle cx="323.8" cy="306.3" r="0.6"/><circle cx="305.1" cy="319.8" r="0.6"/><circle cx="309.7" cy="314.9" r="0.6"/><circle cx="302.7" cy="319.6" r="0.6"/><circle cx="324.2" cy="300.1" r="0.6"/><circle cx="323.7" cy="306.3" r="0.6"/><circle cx="320.7" cy="317.0" r="0.6"/><circle cx="342.7" cy="296.9" r="0.6"/><circle cx="305.7" cy="316.0" r="0.6"/><circle cx="346.0" cy="289.4" r="0.6"/><circle cx="301.6" cy="317.9" r="0.6"/><circle cx="347.0" cy="299.9" r="0.6"/><circle cx="344.4" cy="294.0" r="0.6"/><circle cx="298.2" cy="319.7" r="0.6"/><circle cx="303.1" cy="320.3" r="0.6"/><circle cx="301.7" cy="321.7" r="0.6"/><circle cx="301.2" cy="325.6" r="0.6"/><circle cx="334.6" cy="304.9" r="0.6"/><circle cx="346.8" cy="289.6" r="0.6"/><circle cx="334.6" cy="298.4" r="0.6"/><circle cx="322.8" cy="303.3" r="0.6"/><circle cx="324.4" cy="302.8" r="0.6"/><circle cx="300.0" cy="317.7" r="0.6"/><circle cx="324.0" cy="310.0" r="0.6"/><circle cx="298.1" cy="320.3" r="0.6"/><circle cx="326.2" cy="306.9" r="0.6"/><circle cx="325.6" cy="306.1" r="0.6"/><circle cx="313.6" cy="311.2" r="0.6"/><circle cx="307.4" cy="313.2" r="0.6"/><circle cx="308.7" cy="312.0" r="0.6"/><circle cx="311.4" cy="311.9" r="0.6"/><circle cx="320.6" cy="310.9" r="0.6"/><circle cx="322.8" cy="307.2" r="0.6"/><circle cx="309.3" cy="316.8" r="0.6"/><circle cx="310.9" cy="318.8" r="0.6"/><circle cx="346.2" cy="290.6" r="0.6"/><circle cx="303.0" cy="317.8" r="0.6"/><circle cx="335.6" cy="304.4" r="0.6"/><circle cx="335.6" cy="304.3" r="0.6"/><circle cx="311.5" cy="315.2" r="0.6"/><circle cx="329.7" cy="305.4" r="0.6"/><circle cx="308.2" cy="318.2" r="0.6"/><circle cx="302.1" cy="316.9" r="0.6"/><circle cx="319.0" cy="311.1" r="0.6"/><circle cx="330.2" cy="305.9" r="0.6"/><circle cx="307.8" cy="319.7" r="0.6"/><circle cx="304.2" cy="319.6" r="0.6"/><circle cx="320.6" cy="312.1" r="0.6"/><circle cx="304.6" cy="320.2" r="0.6"/><circle cx="335.8" cy="292.2" r="0.6"/><circle cx="302.7" cy="315.5" r="0.6"/><circle cx="299.6" cy="321.0" r="0.6"/><circle cx="328.1" cy="303.6" r="0.6"/><circle cx="328.5" cy="306.3" r="0.6"/><circle cx="342.9" cy="294.6" r="0.6"/><circle cx="332.7" cy="301.2" r="0.6"/><circle cx="329.5" cy="307.1" r="0.6"/><circle cx="325.5" cy="310.1" r="0.6"/><circle cx="325.8" cy="308.5" r="0.6"/><circle cx="299.6" cy="324.3" r="0.6"/><circle cx="300.2" cy="322.2" r="0.6"/><circle cx="301.1" cy="322.2" r="0.6"/><circle cx="328.1" cy="302.3" r="0.6"/><circle cx="300.6" cy="321.9" r="0.6"/><circle cx="298.1" cy="322.8" r="0.6"/><circle cx="337.2" cy="297.7" r="0.6"/><circle cx="332.9" cy="307.0" r="0.6"/><circle cx="310.5" cy="315.3" r="0.6"/><circle cx="340.4" cy="292.4" r="0.6"/><circle cx="305.1" cy="317.4" r="0.6"/><circle cx="320.1" cy="309.0" r="0.6"/><circle cx="300.3" cy="317.1" r="0.6"/><circle cx="302.1" cy="321.5" r="0.6"/><circle cx="308.3" cy="313.8" r="0.6"/><circle cx="330.7" cy="299.4" r="0.6"/><circle cx="330.9" cy="303.5" r="0.6"/><circle cx="305.4" cy="315.9" r="0.6"/><circle cx="310.4" cy="315.6" r="0.6"/><circle cx="310.4" cy="313.3" r="0.6"/><circle cx="306.7" cy="317.8" r="0.6"/><circle cx="298.1" cy="323.9" r="0.6"/><circle cx="336.4" cy="297.5" r="0.6"/><circle cx="341.2" cy="297.7" r="0.6"/><circle cx="304.5" cy="325.0" r="0.6"/><circle cx="324.5" cy="310.9" r="0.6"/><circle cx="311.1" cy="320.3" r="0.6"/><circle cx="324.4" cy="305.0" r="0.6"/><circle cx="342.6" cy="295.5" r="0.6"/><circle cx="305.5" cy="317.9" r="0.6"/><circle cx="324.5" cy="310.6" r="0.6"/><circle cx="342.1" cy="297.3" r="0.6"/><circle cx="298.0" cy="321.8" r="0.6"/><circle cx="311.6" cy="319.4" r="0.6"/><circle cx="321.6" cy="308.8" r="0.6"/><circle cx="302.7" cy="322.5" r="0.6"/><circle cx="325.5" cy="306.7" r="0.6"/><circle cx="306.2" cy="325.9" r="0.6"/><circle cx="317.6" cy="310.7" r="0.6"/><circle cx="321.9" cy="312.4" r="0.6"/><circle cx="302.4" cy="320.6" r="0.6"/><circle cx="320.5" cy="311.8" r="0.6"/><circle cx="302.8" cy="322.3" r="0.6"/><circle cx="328.1" cy="308.4" r="0.6"/><circle cx="309.0" cy="317.8" r="0.6"/><circle cx="302.8" cy="318.5" r="0.6"/><circle cx="313.4" cy="307.0" r="0.6"/><circle cx="311.1" cy="313.6" r="0.6"/><circle cx="335.7" cy="300.3" r="0.6"/><circle cx="298.1" cy="317.1" r="0.6"/><circle cx="309.9" cy="318.1" r="0.6"/><circle cx="305.0" cy="318.2" r="0.6"/><circle cx="324.7" cy="301.9" r="0.6"/><circle cx="323.0" cy="307.7" r="0.6"/><circle cx="306.5" cy="319.3" r="0.6"/><circle cx="298.4" cy="320.7" r="0.6"/><circle cx="324.4" cy="308.3" r="0.6"/><circle cx="302.7" cy="313.8" r="0.6"/><circle cx="300.9" cy="324.6" r="0.6"/><circle cx="321.2" cy="309.2" r="0.6"/><circle cx="340.7" cy="299.9" r="0.6"/><circle cx="298.4" cy="321.7" r="0.6"/><circle cx="305.0" cy="319.6" r="0.6"/><circle cx="320.0" cy="307.4" r="0.6"/><circle cx="328.5" cy="304.7" r="0.6"/><circle cx="331.6" cy="301.6" r="0.6"/><circle cx="327.9" cy="303.2" r="0.6"/><circle cx="301.6" cy="313.0" r="0.6"/><circle cx="299.8" cy="325.8" r="0.6"/><circle cx="299.0" cy="321.5" r="0.6"/><circle cx="302.6" cy="325.8" r="0.6"/><circle cx="332.3" cy="304.5" r="0.6"/><circle cx="311.1" cy="317.0" r="0.6"/><circle cx="303.1" cy="318.3" r="0.6"/><circle cx="325.8" cy="306.1" r="0.6"/><circle cx="302.3" cy="323.1" r="0.6"/><circle cx="320.3" cy="314.5" r="0.6"/><circle cx="342.2" cy="294.8" r="0.6"/><circle cx="312.2" cy="318.3" r="0.6"/><circle cx="322.0" cy="307.7" r="0.6"/><circle cx="328.6" cy="297.9" r="0.6"/><circle cx="302.4" cy="323.4" r="0.6"/><circle cx="298.6" cy="325.0" r="0.6"/><circle cx="301.7" cy="321.6" r="0.6"/><circle cx="320.4" cy="310.4" r="0.6"/><circle cx="298.1" cy="325.9" r="0.6"/><circle cx="302.5" cy="323.7" r="0.6"/><circle cx="298.2" cy="325.5" r="0.6"/><circle cx="325.2" cy="303.8" r="0.6"/><circle cx="344.4" cy="296.4" r="0.6"/><circle cx="326.2" cy="304.9" r="0.6"/><circle cx="330.2" cy="298.5" r="0.6"/><circle cx="300.8" cy="321.0" r="0.6"/><circle cx="306.6" cy="316.2" r="0.6"/><circle cx="298.4" cy="315.5" r="0.6"/><circle cx="306.5" cy="313.2" r="0.6"/><circle cx="320.8" cy="302.9" r="0.6"/><circle cx="331.1" cy="304.5" r="0.6"/><circle cx="298.0" cy="321.4" r="0.6"/><circle cx="305.2" cy="317.4" r="0.6"/><circle cx="323.8" cy="305.9" r="0.6"/><circle cx="309.3" cy="319.0" r="0.6"/><circle cx="328.6" cy="303.3" r="0.6"/><circle cx="323.3" cy="307.4" r="0.6"/><circle cx="298.5" cy="323.7" r="0.6"/><circle cx="302.9" cy="325.0" r="0.6"/><circle cx="319.0" cy="311.3" r="0.6"/><circle cx="303.0" cy="315.3" r="0.6"/><circle cx="302.4" cy="323.6" r="0.6"/><circle cx="344.4" cy="292.3" r="0.6"/><circle cx="329.4" cy="308.2" r="0.6"/><circle cx="305.5" cy="318.3" r="0.6"/><circle cx="320.6" cy="310.3" r="0.6"/><circle cx="298.6" cy="319.3" r="0.6"/><circle cx="331.6" cy="301.6" r="0.6"/><circle cx="310.2" cy="314.5" r="0.6"/><circle cx="333.5" cy="301.0" r="0.6"/><circle cx="341.9" cy="293.1" r="0.6"/><circle cx="328.2" cy="305.7" r="0.6"/><circle cx="330.9" cy="303.0" r="0.6"/><circle cx="302.2" cy="322.5" r="0.6"/><circle cx="326.8" cy="307.6" r="0.6"/><circle cx="332.3" cy="303.2" r="0.6"/><circle cx="301.9" cy="319.4" r="0.6"/><circle cx="323.7" cy="303.9" r="0.6"/><circle cx="303.5" cy="325.2" r="0.6"/><circle cx="300.9" cy="317.7" r="0.6"/><circle cx="333.5" cy="301.5" r="0.6"/><circle cx="339.8" cy="296.8" r="0.6"/><circle cx="301.2" cy="318.6" r="0.6"/><circle cx="314.1" cy="314.4" r="0.6"/><circle cx="304.5" cy="320.8" r="0.6"/><circle cx="324.9" cy="307.3" r="0.6"/><circle cx="337.1" cy="297.2" r="0.6"/><circle cx="299.1" cy="325.4" r="0.6"/><circle cx="322.2" cy="306.0" r="0.6"/><circle cx="318.1" cy="312.8" r="0.6"/><circle cx="330.2" cy="302.0" r="0.6"/><circle cx="312.8" cy="315.9" r="0.6"/><circle cx="301.0" cy="321.6" r="0.6"/><circle cx="327.7" cy="306.8" r="0.6"/><circle cx="323.7" cy="312.2" r="0.6"/><circle cx="300.3" cy="318.5" r="0.6"/><circle cx="312.2" cy="318.4" r="0.6"/><circle cx="315.0" cy="317.6" r="0.6"/><circle cx="310.4" cy="314.1" r="0.6"/><circle cx="309.9" cy="313.3" r="0.6"/><circle cx="299.6" cy="324.0" r="0.6"/><circle cx="298.4" cy="325.7" r="0.6"/><circle cx="324.1" cy="309.3" r="0.6"/><circle cx="326.0" cy="310.5" r="0.6"/><circle cx="324.8" cy="303.5" r="0.6"/><circle cx="306.8" cy="320.6" r="0.6"/><circle cx="302.3" cy="320.9" r="0.6"/><circle cx="321.0" cy="308.1" r="0.6"/><circle cx="322.9" cy="310.7" r="0.6"/><circle cx="328.6" cy="306.4" r="0.6"/><circle cx="313.4" cy="317.4" r="0.6"/><circle cx="308.1" cy="315.1" r="0.6"/><circle cx="314.9" cy="314.9" r="0.6"/><circle cx="346.0" cy="293.4" r="0.6"/><circle cx="300.6" cy="323.0" r="0.6"/><circle cx="307.8" cy="316.9" r="0.6"/><circle cx="308.2" cy="317.8" r="0.6"/><circle cx="322.0" cy="308.4" r="0.6"/><circle cx="345.9" cy="294.5" r="0.6"/><circle cx="306.0" cy="318.3" r="0.6"/><circle cx="347.4" cy="299.3" r="0.6"/><circle cx="331.7" cy="309.5" r="0.6"/><circle cx="324.1" cy="306.0" r="0.6"/><circle cx="328.6" cy="305.7" r="0.6"/><circle cx="302.7" cy="322.9" r="0.6"/><circle cx="300.7" cy="321.7" r="0.6"/><circle cx="329.4" cy="306.4" r="0.6"/><circle cx="322.1" cy="313.8" r="0.6"/><circle cx="311.4" cy="316.7" r="0.6"/><circle cx="331.6" cy="296.9" r="0.6"/><circle cx="327.3" cy="301.3" r="0.6"/><circle cx="321.2" cy="309.1" r="0.6"/><circle cx="300.6" cy="321.7" r="0.6"/><circle cx="327.0" cy="306.2" r="0.6"/><circle cx="298.0" cy="325.4" r="0.6"/><circle cx="300.0" cy="324.3" r="0.6"/><circle cx="327.4" cy="307.1" r="0.6"/><circle cx="301.8" cy="321.3" r="0.6"/><circle cx="305.3" cy="319.2" r="0.6"/><circle cx="305.4" cy="318.1" r="0.6"/><circle cx="325.4" cy="302.5" r="0.6"/><circle cx="334.5" cy="296.2" r="0.6"/><circle cx="300.0" cy="317.0" r="0.6"/><circle cx="315.7" cy="308.8" r="0.6"/><circle cx="302.7" cy="323.9" r="0.6"/><circle cx="315.9" cy="314.6" r="0.6"/><circle cx="333.3" cy="302.3" r="0.6"/><circle cx="311.4" cy="308.7" r="0.6"/><circle cx="302.0" cy="316.1" r="0.6"/><circle cx="312.2" cy="312.7" r="0.6"/><circle cx="315.8" cy="308.5" r="0.6"/><circle cx="324.5" cy="307.7" r="0.6"/><circle cx="327.1" cy="303.0" r="0.6"/><circle cx="343.5" cy="289.5" r="0.6"/><circle cx="334.1" cy="300.6" r="0.6"/><circle cx="333.7" cy="300.9" r="0.6"/><circle cx="298.3" cy="321.8" r="0.6"/><circle cx="320.5" cy="311.2" r="0.6"/><circle cx="327.3" cy="310.2" r="0.6"/><circle cx="333.1" cy="300.7" r="0.6"/><circle cx="315.8" cy="315.6" r="0.6"/><circle cx="302.0" cy="321.1" r="0.6"/><circle cx="328.0" cy="307.7" r="0.6"/><circle cx="324.7" cy="308.5" r="0.6"/><circle cx="319.4" cy="315.3" r="0.6"/><circle cx="328.7" cy="303.3" r="0.6"/><circle cx="328.1" cy="300.7" r="0.6"/><circle cx="298.2" cy="318.0" r="0.6"/><circle cx="299.9" cy="318.0" r="0.6"/><circle cx="298.3" cy="324.5" r="0.6"/><circle cx="344.3" cy="298.3" r="0.6"/><circle cx="313.7" cy="316.9" r="0.6"/><circle cx="326.0" cy="300.0" r="0.6"/><circle cx="301.2" cy="324.8" r="0.6"/><circle cx="298.2" cy="320.1" r="0.6"/><circle cx="328.0" cy="303.6" r="0.6"/><circle cx="325.4" cy="305.5" r="0.6"/><circle cx="307.6" cy="315.1" r="0.6"/><circle cx="319.0" cy="309.9" r="0.6"/><circle cx="304.3" cy="316.0" r="0.6"/><circle cx="339.7" cy="298.1" r="0.6"/><circle cx="307.2" cy="322.1" r="0.6"/><circle cx="318.5" cy="308.6" r="0.6"/><circle cx="325.8" cy="305.2" r="0.6"/><circle cx="324.4" cy="307.8" r="0.6"/><circle cx="301.1" cy="320.7" r="0.6"/><circle cx="309.9" cy="323.7" r="0.6"/><circle cx="322.6" cy="306.6" r="0.6"/><circle cx="324.3" cy="303.9" r="0.6"/><circle cx="329.8" cy="304.0" r="0.6"/><circle cx="335.3" cy="298.2" r="0.6"/><circle cx="315.6" cy="307.9" r="0.6"/><circle cx="346.3" cy="291.0" r="0.6"/><circle cx="330.3" cy="305.5" r="0.6"/><circle cx="326.8" cy="305.1" r="0.6"/><circle cx="345.0" cy="290.9" r="0.6"/><circle cx="340.8" cy="298.2" r="0.6"/><circle cx="324.8" cy="304.5" r="0.6"/><circle cx="344.5" cy="292.9" r="0.6"/><circle cx="338.3" cy="295.6" r="0.6"/><circle cx="308.9" cy="314.9" r="0.6"/><circle cx="303.7" cy="321.1" r="0.6"/><circle cx="304.5" cy="317.9" r="0.6"/><circle cx="324.1" cy="307.9" r="0.6"/><circle cx="330.7" cy="300.7" r="0.6"/><circle cx="333.0" cy="300.2" r="0.6"/><circle cx="301.3" cy="317.4" r="0.6"/><circle cx="298.2" cy="325.2" r="0.6"/><circle cx="335.4" cy="302.2" r="0.6"/><circle cx="314.3" cy="315.5" r="0.6"/><circle cx="320.1" cy="307.0" r="0.6"/><circle cx="344.8" cy="295.9" r="0.6"/><circle cx="301.8" cy="321.9" r="0.6"/><circle cx="342.9" cy="301.2" r="0.6"/><circle cx="342.1" cy="297.9" r="0.6"/><circle cx="315.3" cy="315.0" r="0.6"/><circle cx="307.4" cy="316.5" r="0.6"/><circle cx="326.8" cy="309.8" r="0.6"/><circle cx="308.6" cy="318.8" r="0.6"/><circle cx="316.3" cy="311.4" r="0.6"/><circle cx="331.3" cy="305.4" r="0.6"/><circle cx="311.9" cy="312.0" r="0.6"/><circle cx="313.1" cy="318.3" r="0.6"/><circle cx="315.7" cy="313.4" r="0.6"/><circle cx="336.1" cy="305.5" r="0.6"/><circle cx="317.6" cy="307.4" r="0.6"/><circle cx="321.1" cy="303.0" r="0.6"/><circle cx="298.5" cy="317.2" r="0.6"/><circle cx="306.8" cy="314.9" r="0.6"/><circle cx="318.2" cy="310.5" r="0.6"/><circle cx="302.7" cy="319.6" r="0.6"/><circle cx="322.9" cy="309.4" r="0.6"/><circle cx="321.7" cy="307.3" r="0.6"/><circle cx="340.3" cy="300.6" r="0.6"/><circle cx="330.8" cy="302.2" r="0.6"/><circle cx="315.7" cy="310.1" r="0.6"/><circle cx="303.5" cy="324.6" r="0.6"/><circle cx="323.1" cy="306.3" r="0.6"/><circle cx="327.4" cy="307.3" r="0.6"/><circle cx="302.4" cy="322.1" r="0.6"/><circle cx="319.2" cy="309.2" r="0.6"/><circle cx="302.2" cy="321.7" r="0.6"/><circle cx="315.6" cy="309.2" r="0.6"/><circle cx="330.5" cy="298.0" r="0.6"/><circle cx="324.1" cy="309.5" r="0.6"/><circle cx="320.5" cy="305.1" r="0.6"/><circle cx="330.2" cy="304.5" r="0.6"/><circle cx="299.9" cy="323.9" r="0.6"/><circle cx="321.7" cy="309.5" r="0.6"/><circle cx="327.1" cy="309.0" r="0.6"/><circle cx="344.5" cy="290.3" r="0.6"/><circle cx="326.7" cy="307.5" r="0.6"/><circle cx="299.8" cy="322.9" r="0.6"/><circle cx="298.5" cy="324.5" r="0.6"/><circle cx="310.2" cy="315.4" r="0.6"/><circle cx="312.6" cy="314.0" r="0.6"/><circle cx="340.4" cy="293.1" r="0.6"/><circle cx="331.7" cy="305.6" r="0.6"/><circle cx="340.0" cy="300.2" r="0.6"/><circle cx="309.3" cy="311.4" r="0.6"/><circle cx="345.6" cy="293.0" r="0.6"/><circle cx="312.3" cy="311.4" r="0.6"/><circle cx="328.2" cy="303.1" r="0.6"/><circle cx="302.9" cy="322.8" r="0.6"/><circle cx="331.4" cy="305.4" r="0.6"/><circle cx="304.2" cy="323.6" r="0.6"/><circle cx="313.6" cy="316.9" r="0.6"/><circle cx="319.3" cy="313.8" r="0.6"/><circle cx="300.9" cy="320.7" r="0.6"/><circle cx="340.1" cy="298.4" r="0.6"/><circle cx="325.7" cy="309.7" r="0.6"/><circle cx="333.8" cy="300.9" r="0.6"/><circle cx="298.2" cy="324.4" r="0.6"/><circle cx="346.3" cy="295.5" r="0.6"/><circle cx="327.1" cy="306.2" r="0.6"/><circle cx="307.8" cy="314.3" r="0.6"/><circle cx="299.4" cy="321.1" r="0.6"/><circle cx="338.1" cy="295.7" r="0.6"/><circle cx="306.3" cy="319.6" r="0.6"/><circle cx="299.1" cy="322.9" r="0.6"/><circle cx="325.7" cy="305.8" r="0.6"/><circle cx="317.6" cy="310.7" r="0.6"/><circle cx="330.9" cy="297.9" r="0.6"/><circle cx="298.1" cy="320.2" r="0.6"/><circle cx="326.6" cy="305.7" r="0.6"/><circle cx="321.6" cy="310.4" r="0.6"/><circle cx="343.2" cy="296.4" r="0.6"/><circle cx="329.2" cy="304.1" r="0.6"/><circle cx="320.4" cy="302.0" r="0.6"/><circle cx="316.2" cy="311.5" r="0.6"/><circle cx="319.6" cy="310.9" r="0.6"/><circle cx="325.7" cy="307.1" r="0.6"/><circle cx="313.1" cy="313.8" r="0.6"/><circle cx="317.3" cy="308.1" r="0.6"/><circle cx="315.9" cy="308.1" r="0.6"/><circle cx="332.4" cy="305.7" r="0.6"/><circle cx="328.2" cy="297.3" r="0.6"/><circle cx="314.3" cy="307.8" r="0.6"/><circle cx="328.7" cy="305.0" r="0.6"/><circle cx="327.0" cy="308.4" r="0.6"/><circle cx="327.9" cy="302.5" r="0.6"/><circle cx="313.6" cy="313.6" r="0.6"/><circle cx="327.6" cy="301.8" r="0.6"/><circle cx="298.9" cy="325.5" r="0.6"/><circle cx="320.5" cy="307.4" r="0.6"/><circle cx="342.0" cy="296.8" r="0.6"/><circle cx="301.3" cy="321.4" r="0.6"/><circle cx="333.9" cy="296.2" r="0.6"/><circle cx="323.1" cy="307.4" r="0.6"/><circle cx="300.9" cy="320.9" r="0.6"/><circle cx="318.3" cy="313.0" r="0.6"/><circle cx="310.9" cy="312.5" r="0.6"/><circle cx="298.3" cy="320.3" r="0.6"/><circle cx="315.4" cy="312.5" r="0.6"/><circle cx="324.0" cy="309.3" r="0.6"/><circle cx="298.1" cy="324.7" r="0.6"/><circle cx="332.2" cy="299.9" r="0.6"/><circle cx="327.2" cy="307.6" r="0.6"/><circle cx="332.7" cy="297.1" r="0.6"/><circle cx="298.3" cy="322.5" r="0.6"/><circle cx="298.4" cy="321.3" r="0.6"/><circle cx="331.7" cy="297.1" r="0.6"/><circle cx="312.7" cy="309.2" r="0.6"/><circle cx="300.2" cy="324.4" r="0.6"/><circle cx="305.2" cy="318.0" r="0.6"/><circle cx="343.2" cy="296.0" r="0.6"/><circle cx="328.4" cy="308.4" r="0.6"/><circle cx="304.4" cy="321.9" r="0.6"/><circle cx="299.5" cy="324.0" r="0.6"/><circle cx="299.9" cy="321.9" r="0.6"/><circle cx="320.5" cy="309.7" r="0.6"/><circle cx="329.0" cy="305.9" r="0.6"/><circle cx="329.3" cy="299.8" r="0.6"/><circle cx="308.4" cy="321.3" r="0.6"/><circle cx="329.0" cy="301.8" r="0.6"/><circle cx="304.9" cy="322.4" r="0.6"/><circle cx="334.5" cy="301.7" r="0.6"/><circle cx="298.5" cy="324.1" r="0.6"/><circle cx="337.3" cy="295.3" r="0.6"/><circle cx="307.2" cy="313.0" r="0.6"/><circle cx="302.9" cy="318.8" r="0.6"/><circle cx="309.9" cy="318.0" r="0.6"/><circle cx="327.7" cy="298.8" r="0.6"/><circle cx="327.3" cy="299.8" r="0.6"/><circle cx="325.6" cy="308.4" r="0.6"/><circle cx="301.1" cy="321.0" r="0.6"/><circle cx="332.2" cy="295.5" r="0.6"/><circle cx="303.4" cy="320.0" r="0.6"/><circle cx="329.8" cy="303.4" r="0.6"/><circle cx="336.3" cy="299.3" r="0.6"/><circle cx="307.9" cy="315.4" r="0.6"/><circle cx="323.5" cy="308.5" r="0.6"/><circle cx="321.4" cy="309.2" r="0.6"/><circle cx="298.9" cy="324.5" r="0.6"/><circle cx="335.2" cy="300.5" r="0.6"/><circle cx="343.2" cy="293.3" r="0.6"/><circle cx="338.4" cy="297.9" r="0.6"/><circle cx="332.1" cy="301.1" r="0.6"/><circle cx="321.4" cy="307.8" r="0.6"/><circle cx="298.1" cy="320.5" r="0.6"/><circle cx="324.3" cy="308.1" r="0.6"/><circle cx="313.9" cy="312.1" r="0.6"/><circle cx="311.0" cy="318.4" r="0.6"/><circle cx="318.9" cy="309.1" r="0.6"/><circle cx="320.6" cy="305.2" r="0.6"/><circle cx="326.3" cy="302.5" r="0.6"/><circle cx="311.4" cy="315.9" r="0.6"/><circle cx="320.6" cy="307.2" r="0.6"/><circle cx="299.1" cy="323.0" r="0.6"/><circle cx="323.6" cy="306.1" r="0.6"/><circle cx="325.1" cy="306.2" r="0.6"/><circle cx="314.1" cy="316.4" r="0.6"/><circle cx="322.5" cy="309.6" r="0.6"/><circle cx="343.5" cy="293.6" r="0.6"/><circle cx="310.3" cy="315.2" r="0.6"/><circle cx="299.5" cy="323.6" r="0.6"/><circle cx="313.0" cy="314.0" r="0.6"/><circle cx="307.4" cy="315.5" r="0.6"/><circle cx="329.6" cy="306.6" r="0.6"/><circle cx="329.7" cy="303.4" r="0.6"/><circle cx="331.7" cy="299.8" r="0.6"/><circle cx="310.9" cy="320.3" r="0.6"/><circle cx="330.6" cy="300.0" r="0.6"/><circle cx="321.7" cy="311.7" r="0.6"/><circle cx="299.8" cy="320.7" r="0.6"/><circle cx="327.6" cy="306.6" r="0.6"/><circle cx="333.0" cy="303.0" r="0.6"/><circle cx="313.9" cy="309.5" r="0.6"/><circle cx="323.8" cy="304.1" r="0.6"/><circle cx="299.6" cy="323.0" r="0.6"/><circle cx="302.2" cy="317.9" r="0.6"/><circle cx="312.0" cy="312.5" r="0.6"/><circle cx="341.0" cy="299.9" r="0.6"/><circle cx="318.7" cy="313.9" r="0.6"/><circle cx="334.2" cy="299.9" r="0.6"/><circle cx="302.1" cy="320.1" r="0.6"/><circle cx="313.5" cy="310.2" r="0.6"/><circle cx="305.3" cy="317.4" r="0.6"/><circle cx="335.0" cy="301.9" r="0.6"/><circle cx="332.0" cy="303.5" r="0.6"/><circle cx="298.6" cy="318.2" r="0.6"/><circle cx="319.9" cy="308.6" r="0.6"/><circle cx="301.7" cy="316.4" r="0.6"/><circle cx="304.8" cy="320.2" r="0.6"/><circle cx="317.2" cy="315.5" r="0.6"/><circle cx="336.0" cy="303.4" r="0.6"/><circle cx="344.5" cy="294.2" r="0.6"/><circle cx="343.2" cy="298.5" r="0.6"/><circle cx="338.5" cy="298.3" r="0.6"/><circle cx="330.7" cy="305.6" r="0.6"/><circle cx="331.1" cy="305.7" r="0.6"/><circle cx="328.2" cy="303.6" r="0.6"/><circle cx="312.3" cy="316.2" r="0.6"/><circle cx="308.3" cy="315.9" r="0.6"/><circle cx="313.1" cy="311.6" r="0.6"/><circle cx="322.1" cy="306.1" r="0.6"/><circle cx="298.4" cy="320.2" r="0.6"/><circle cx="335.3" cy="295.8" r="0.6"/><circle cx="310.9" cy="316.4" r="0.6"/><circle cx="313.9" cy="316.0" r="0.6"/><circle cx="330.0" cy="305.0" r="0.6"/><circle cx="305.9" cy="321.4" r="0.6"/><circle cx="312.6" cy="319.5" r="0.6"/><circle cx="315.1" cy="310.0" r="0.6"/><circle cx="347.4" cy="292.7" r="0.6"/><circle cx="304.2" cy="314.1" r="0.6"/><circle cx="299.3" cy="323.2" r="0.6"/><circle cx="303.4" cy="323.3" r="0.6"/><circle cx="300.7" cy="321.8" r="0.6"/><circle cx="339.2" cy="303.2" r="0.6"/><circle cx="321.1" cy="301.7" r="0.6"/><circle cx="322.2" cy="309.8" r="0.6"/><circle cx="303.8" cy="315.5" r="0.6"/><circle cx="338.5" cy="299.0" r="0.6"/><circle cx="312.3" cy="316.1" r="0.6"/><circle cx="316.0" cy="321.7" r="0.6"/><circle cx="332.2" cy="304.0" r="0.6"/><circle cx="300.2" cy="321.8" r="0.6"/><circle cx="300.4" cy="323.1" r="0.6"/><circle cx="298.0" cy="325.9" r="0.6"/><circle cx="330.2" cy="305.8" r="0.6"/><circle cx="302.8" cy="315.3" r="0.6"/><circle cx="330.1" cy="299.7" r="0.6"/><circle cx="306.3" cy="312.4" r="0.6"/><circle cx="314.9" cy="312.7" r="0.6"/><circle cx="327.5" cy="304.0" r="0.6"/><circle cx="330.1" cy="303.2" r="0.6"/><circle cx="325.9" cy="303.1" r="0.6"/><circle cx="326.4" cy="310.7" r="0.6"/><circle cx="300.5" cy="321.2" r="0.6"/><circle cx="300.8" cy="319.2" r="0.6"/><circle cx="322.9" cy="308.3" r="0.6"/><circle cx="331.3" cy="303.4" r="0.6"/><circle cx="324.0" cy="306.5" r="0.6"/><circle cx="302.2" cy="319.8" r="0.6"/><circle cx="298.2" cy="320.9" r="0.6"/><circle cx="329.8" cy="301.0" r="0.6"/><circle cx="302.9" cy="316.5" r="0.6"/><circle cx="323.2" cy="312.7" r="0.6"/><circle cx="324.1" cy="305.2" r="0.6"/><circle cx="319.3" cy="315.2" r="0.6"/><circle cx="330.1" cy="298.3" r="0.6"/><circle cx="301.8" cy="322.4" r="0.6"/><circle cx="327.2" cy="304.7" r="0.6"/><circle cx="325.7" cy="304.5" r="0.6"/><circle cx="321.5" cy="309.0" r="0.6"/><circle cx="316.5" cy="314.0" r="0.6"/><circle cx="298.9" cy="323.7" r="0.6"/><circle cx="325.2" cy="308.2" r="0.6"/><circle cx="312.6" cy="310.4" r="0.6"/><circle cx="310.3" cy="315.9" r="0.6"/><circle cx="301.7" cy="319.9" r="0.6"/><circle cx="319.0" cy="310.8" r="0.6"/><circle cx="317.4" cy="309.5" r="0.6"/><circle cx="330.2" cy="306.9" r="0.6"/><circle cx="326.8" cy="303.2" r="0.6"/><circle cx="330.2" cy="304.5" r="0.6"/><circle cx="328.2" cy="305.8" r="0.6"/><circle cx="343.3" cy="294.3" r="0.6"/><circle cx="301.1" cy="321.1" r="0.6"/><circle cx="306.1" cy="315.8" r="0.6"/><circle cx="324.7" cy="306.1" r="0.6"/><circle cx="337.9" cy="298.9" r="0.6"/><circle cx="317.6" cy="313.2" r="0.6"/><circle cx="298.0" cy="320.7" r="0.6"/><circle cx="298.3" cy="325.3" r="0.6"/><circle cx="302.2" cy="323.8" r="0.6"/><circle cx="322.4" cy="306.5" r="0.6"/><circle cx="322.1" cy="302.2" r="0.6"/><circle cx="331.6" cy="302.5" r="0.6"/><circle cx="298.9" cy="325.2" r="0.6"/><circle cx="318.2" cy="313.0" r="0.6"/><circle cx="310.7" cy="314.0" r="0.6"/><circle cx="321.1" cy="309.6" r="0.6"/><circle cx="347.0" cy="293.1" r="0.6"/><circle cx="326.8" cy="302.9" r="0.6"/><circle cx="301.1" cy="320.3" r="0.6"/><circle cx="299.7" cy="323.3" r="0.6"/><circle cx="302.1" cy="324.8" r="0.6"/><circle cx="308.3" cy="314.4" r="0.6"/><circle cx="326.8" cy="306.4" r="0.6"/><circle cx="312.6" cy="316.8" r="0.6"/><circle cx="345.2" cy="289.4" r="0.6"/><circle cx="316.9" cy="314.1" r="0.6"/><circle cx="303.4" cy="321.1" r="0.6"/><circle cx="303.2" cy="318.6" r="0.6"/><circle cx="318.4" cy="311.9" r="0.6"/><circle cx="309.1" cy="315.9" r="0.6"/><circle cx="300.4" cy="321.4" r="0.6"/><circle cx="319.0" cy="306.5" r="0.6"/><circle cx="309.8" cy="316.4" r="0.6"/><circle cx="300.9" cy="321.8" r="0.6"/><circle cx="299.8" cy="323.9" r="0.6"/><circle cx="321.6" cy="307.3" r="0.6"/><circle cx="315.7" cy="314.3" r="0.6"/><circle cx="344.5" cy="290.0" r="0.6"/><circle cx="300.7" cy="320.4" r="0.6"/><circle cx="312.2" cy="316.7" r="0.6"/><circle cx="324.3" cy="306.9" r="0.6"/><circle cx="340.1" cy="296.3" r="0.6"/><circle cx="343.1" cy="289.6" r="0.6"/><circle cx="310.2" cy="319.5" r="0.6"/><circle cx="303.7" cy="320.7" r="0.6"/><circle cx="324.2" cy="307.6" r="0.6"/><circle cx="331.1" cy="302.0" r="0.6"/><circle cx="300.9" cy="321.0" r="0.6"/><circle cx="320.3" cy="306.4" r="0.6"/><circle cx="332.7" cy="306.5" r="0.6"/><circle cx="316.6" cy="314.7" r="0.6"/><circle cx="308.1" cy="317.3" r="0.6"/><circle cx="308.2" cy="317.9" r="0.6"/><circle cx="330.0" cy="303.0" r="0.6"/><circle cx="308.8" cy="315.4" r="0.6"/><circle cx="321.5" cy="310.4" r="0.6"/><circle cx="313.0" cy="317.5" r="0.6"/><circle cx="326.9" cy="307.3" r="0.6"/><circle cx="300.8" cy="322.8" r="0.6"/><circle cx="316.6" cy="314.5" r="0.6"/><circle cx="313.3" cy="316.8" r="0.6"/><circle cx="331.7" cy="300.6" r="0.6"/><circle cx="300.7" cy="318.8" r="0.6"/><circle cx="325.7" cy="308.3" r="0.6"/><circle cx="299.0" cy="324.8" r="0.6"/><circle cx="312.3" cy="314.8" r="0.6"/><circle cx="313.0" cy="311.3" r="0.6"/><circle cx="322.0" cy="306.2" r="0.6"/><circle cx="298.7" cy="325.4" r="0.6"/><circle cx="343.4" cy="295.0" r="0.6"/><circle cx="324.2" cy="308.4" r="0.6"/><circle cx="323.5" cy="307.3" r="0.6"/><circle cx="305.9" cy="319.3" r="0.6"/><circle cx="313.9" cy="312.8" r="0.6"/><circle cx="332.7" cy="299.4" r="0.6"/><circle cx="320.3" cy="312.1" r="0.6"/><circle cx="305.9" cy="318.9" r="0.6"/><circle cx="321.1" cy="315.9" r="0.6"/><circle cx="322.5" cy="313.0" r="0.6"/><circle cx="328.8" cy="305.7" r="0.6"/><circle cx="327.0" cy="304.2" r="0.6"/><circle cx="338.3" cy="295.3" r="0.6"/><circle cx="298.1" cy="319.2" r="0.6"/><circle cx="312.3" cy="311.1" r="0.6"/><circle cx="317.7" cy="312.2" r="0.6"/><circle cx="347.1" cy="292.4" r="0.6"/><circle cx="300.0" cy="322.1" r="0.6"/><circle cx="326.3" cy="305.5" r="0.6"/><circle cx="323.6" cy="308.1" r="0.6"/><circle cx="331.6" cy="304.1" r="0.6"/><circle cx="331.6" cy="302.2" r="0.6"/><circle cx="327.3" cy="303.9" r="0.6"/><circle cx="321.1" cy="307.6" r="0.6"/><circle cx="313.2" cy="311.5" r="0.6"/><circle cx="305.3" cy="315.0" r="0.6"/><circle cx="298.1" cy="323.0" r="0.6"/><circle cx="331.9" cy="300.7" r="0.6"/><circle cx="327.6" cy="304.5" r="0.6"/><circle cx="310.3" cy="315.9" r="0.6"/><circle cx="340.4" cy="298.5" r="0.6"/><circle cx="335.7" cy="295.3" r="0.6"/><circle cx="330.1" cy="306.1" r="0.6"/><circle cx="304.8" cy="320.0" r="0.6"/><circle cx="332.0" cy="304.8" r="0.6"/><circle cx="301.9" cy="320.5" r="0.6"/><circle cx="299.7" cy="316.4" r="0.6"/><circle cx="308.3" cy="316.6" r="0.6"/><circle cx="328.5" cy="303.8" r="0.6"/><circle cx="303.9" cy="318.6" r="0.6"/><circle cx="337.2" cy="296.5" r="0.6"/><circle cx="300.6" cy="324.9" r="0.6"/><circle cx="321.6" cy="313.8" r="0.6"/><circle cx="309.7" cy="313.5" r="0.6"/><circle cx="302.8" cy="319.6" r="0.6"/><circle cx="325.9" cy="307.5" r="0.6"/><circle cx="325.2" cy="307.1" r="0.6"/><circle cx="321.9" cy="315.7" r="0.6"/><circle cx="311.6" cy="313.5" r="0.6"/><circle cx="320.5" cy="310.2" r="0.6"/><circle cx="332.0" cy="303.3" r="0.6"/><circle cx="307.2" cy="319.9" r="0.6"/><circle cx="315.2" cy="314.3" r="0.6"/><circle cx="327.1" cy="302.3" r="0.6"/><circle cx="298.1" cy="319.9" r="0.6"/><circle cx="343.8" cy="295.4" r="0.6"/><circle cx="299.9" cy="321.0" r="0.6"/><circle cx="322.2" cy="307.1" r="0.6"/><circle cx="338.6" cy="300.8" r="0.6"/><circle cx="341.2" cy="298.5" r="0.6"/><circle cx="327.1" cy="306.7" r="0.6"/><circle cx="345.3" cy="293.5" r="0.6"/><circle cx="303.1" cy="325.7" r="0.6"/><circle cx="298.0" cy="325.8" r="0.6"/><circle cx="330.5" cy="301.0" r="0.6"/><circle cx="322.2" cy="308.4" r="0.6"/><circle cx="299.7" cy="319.1" r="0.6"/><circle cx="324.8" cy="305.4" r="0.6"/><circle cx="298.2" cy="322.8" r="0.6"/><circle cx="329.9" cy="302.5" r="0.6"/><circle cx="327.8" cy="307.8" r="0.6"/><circle cx="319.8" cy="306.0" r="0.6"/><circle cx="325.8" cy="304.3" r="0.6"/><circle cx="312.7" cy="319.6" r="0.6"/><circle cx="302.4" cy="320.8" r="0.6"/><circle cx="301.2" cy="318.2" r="0.6"/><circle cx="340.7" cy="299.5" r="0.6"/><circle cx="312.9" cy="305.2" r="0.6"/><circle cx="325.8" cy="304.5" r="0.6"/><circle cx="304.6" cy="325.1" r="0.6"/><circle cx="317.5" cy="310.6" r="0.6"/><circle cx="333.7" cy="306.3" r="0.6"/><circle cx="326.8" cy="308.2" r="0.6"/><circle cx="321.9" cy="307.3" r="0.6"/><circle cx="298.1" cy="317.3" r="0.6"/><circle cx="328.2" cy="299.6" r="0.6"/><circle cx="319.9" cy="308.3" r="0.6"/><circle cx="322.2" cy="307.2" r="0.6"/><circle cx="328.5" cy="305.6" r="0.6"/><circle cx="322.4" cy="308.4" r="0.6"/><circle cx="301.9" cy="321.6" r="0.6"/><circle cx="299.2" cy="313.8" r="0.6"/><circle cx="326.5" cy="304.5" r="0.6"/><circle cx="309.8" cy="313.9" r="0.6"/><circle cx="317.7" cy="308.8" r="0.6"/><circle cx="320.0" cy="311.0" r="0.6"/><circle cx="310.1" cy="315.7" r="0.6"/><circle cx="300.6" cy="321.7" r="0.6"/><circle cx="310.6" cy="314.4" r="0.6"/><circle cx="312.4" cy="314.6" r="0.6"/><circle cx="341.1" cy="296.2" r="0.6"/><circle cx="337.1" cy="301.9" r="0.6"/><circle cx="304.2" cy="325.0" r="0.6"/><circle cx="306.3" cy="319.4" r="0.6"/><circle cx="302.1" cy="316.8" r="0.6"/><circle cx="299.4" cy="319.6" r="0.6"/><circle cx="329.2" cy="306.1" r="0.6"/><circle cx="331.2" cy="305.5" r="0.6"/><circle cx="320.3" cy="307.3" r="0.6"/><circle cx="315.3" cy="312.6" r="0.6"/><circle cx="331.6" cy="305.2" r="0.6"/><circle cx="339.5" cy="298.6" r="0.6"/><circle cx="336.9" cy="301.4" r="0.6"/><circle cx="314.6" cy="313.5" r="0.6"/><circle cx="319.2" cy="303.8" r="0.6"/><circle cx="334.5" cy="300.3" r="0.6"/><circle cx="336.4" cy="298.6" r="0.6"/><circle cx="323.8" cy="309.2" r="0.6"/><circle cx="315.8" cy="309.4" r="0.6"/><circle cx="321.1" cy="314.3" r="0.6"/><circle cx="324.3" cy="306.3" r="0.6"/><circle cx="302.4" cy="321.9" r="0.6"/><circle cx="305.4" cy="317.5" r="0.6"/><circle cx="298.9" cy="323.9" r="0.6"/><circle cx="333.5" cy="295.3" r="0.6"/><circle cx="322.7" cy="307.8" r="0.6"/><circle cx="330.7" cy="304.6" r="0.6"/><circle cx="326.5" cy="307.4" r="0.6"/><circle cx="298.1" cy="321.3" r="0.6"/><circle cx="312.9" cy="312.3" r="0.6"/><circle cx="327.6" cy="304.2" r="0.6"/><circle cx="302.1" cy="320.1" r="0.6"/><circle cx="307.5" cy="316.3" r="0.6"/><circle cx="298.3" cy="325.3" r="0.6"/><circle cx="328.3" cy="303.5" r="0.6"/><circle cx="316.1" cy="311.0" r="0.6"/><circle cx="313.3" cy="316.3" r="0.6"/><circle cx="316.8" cy="312.4" r="0.6"/><circle cx="298.7" cy="322.7" r="0.6"/><circle cx="335.2" cy="302.9" r="0.6"/><circle cx="308.9" cy="315.9" r="0.6"/><circle cx="332.3" cy="307.9" r="0.6"/><circle cx="309.9" cy="314.9" r="0.6"/><circle cx="323.9" cy="309.4" r="0.6"/><circle cx="298.3" cy="325.5" r="0.6"/><circle cx="345.6" cy="296.9" r="0.6"/><circle cx="301.6" cy="316.4" r="0.6"/><circle cx="298.9" cy="320.2" r="0.6"/><circle cx="337.7" cy="294.5" r="0.6"/><circle cx="334.7" cy="299.0" r="0.6"/><circle cx="317.9" cy="314.2" r="0.6"/><circle cx="332.1" cy="299.1" r="0.6"/><circle cx="302.7" cy="321.2" r="0.6"/><circle cx="337.4" cy="296.8" r="0.6"/><circle cx="307.4" cy="315.1" r="0.6"/><circle cx="346.9" cy="292.2" r="0.6"/><circle cx="327.1" cy="304.9" r="0.6"/><circle cx="330.9" cy="301.9" r="0.6"/><circle cx="309.8" cy="318.3" r="0.6"/><circle cx="325.3" cy="307.7" r="0.6"/><circle cx="332.1" cy="301.3" r="0.6"/><circle cx="329.2" cy="304.6" r="0.6"/><circle cx="318.8" cy="305.3" r="0.6"/><circle cx="338.7" cy="304.4" r="0.6"/><circle cx="326.5" cy="303.7" r="0.6"/><circle cx="307.9" cy="317.7" r="0.6"/><circle cx="321.7" cy="309.2" r="0.6"/><circle cx="324.7" cy="303.4" r="0.6"/><circle cx="335.3" cy="301.8" r="0.6"/><circle cx="341.9" cy="296.6" r="0.6"/><circle cx="323.7" cy="305.4" r="0.6"/><circle cx="316.5" cy="312.1" r="0.6"/><circle cx="324.0" cy="300.9" r="0.6"/><circle cx="318.1" cy="305.5" r="0.6"/><circle cx="301.9" cy="319.4" r="0.6"/><circle cx="329.1" cy="305.5" r="0.6"/><circle cx="323.9" cy="304.8" r="0.6"/><circle cx="298.2" cy="325.2" r="0.6"/><circle cx="312.0" cy="311.8" r="0.6"/><circle cx="309.0" cy="316.9" r="0.6"/><circle cx="322.8" cy="310.8" r="0.6"/><circle cx="323.1" cy="299.3" r="0.6"/><circle cx="305.1" cy="318.8" r="0.6"/><circle cx="325.8" cy="308.9" r="0.6"/><circle cx="299.8" cy="324.2" r="0.6"/><circle cx="327.2" cy="304.0" r="0.6"/><circle cx="321.2" cy="303.1" r="0.6"/><circle cx="308.4" cy="316.7" r="0.6"/><circle cx="322.2" cy="303.5" r="0.6"/><circle cx="298.6" cy="324.1" r="0.6"/><circle cx="346.3" cy="293.7" r="0.6"/><circle cx="334.0" cy="297.6" r="0.6"/><circle cx="316.0" cy="311.3" r="0.6"/><circle cx="313.2" cy="315.5" r="0.6"/><circle cx="324.2" cy="304.8" r="0.6"/><circle cx="329.7" cy="306.3" r="0.6"/><circle cx="299.0" cy="321.6" r="0.6"/><circle cx="311.6" cy="315.8" r="0.6"/><circle cx="309.1" cy="314.6" r="0.6"/><circle cx="305.7" cy="315.4" r="0.6"/><circle cx="306.9" cy="317.3" r="0.6"/><circle cx="326.2" cy="304.3" r="0.6"/><circle cx="327.1" cy="298.4" r="0.6"/><circle cx="322.4" cy="307.5" r="0.6"/><circle cx="342.4" cy="295.1" r="0.6"/><circle cx="302.7" cy="315.6" r="0.6"/><circle cx="306.5" cy="320.3" r="0.6"/><circle cx="326.3" cy="309.8" r="0.6"/><circle cx="321.5" cy="311.5" r="0.6"/><circle cx="314.1" cy="312.5" r="0.6"/><circle cx="342.5" cy="295.7" r="0.6"/><circle cx="329.8" cy="302.3" r="0.6"/><circle cx="319.8" cy="309.1" r="0.6"/><circle cx="323.9" cy="308.1" r="0.6"/><circle cx="301.6" cy="319.7" r="0.6"/><circle cx="331.4" cy="297.5" r="0.6"/><circle cx="310.2" cy="315.8" r="0.6"/><circle cx="315.1" cy="316.7" r="0.6"/><circle cx="346.3" cy="289.7" r="0.6"/><circle cx="300.3" cy="319.4" r="0.6"/><circle cx="333.0" cy="306.0" r="0.6"/><circle cx="346.2" cy="291.8" r="0.6"/><circle cx="324.6" cy="307.7" r="0.6"/><circle cx="301.1" cy="323.4" r="0.6"/><circle cx="328.0" cy="304.1" r="0.6"/><circle cx="343.3" cy="299.1" r="0.6"/><circle cx="342.2" cy="292.7" r="0.6"/><circle cx="313.9" cy="310.8" r="0.6"/><circle cx="309.9" cy="320.2" r="0.6"/><circle cx="299.3" cy="321.3" r="0.6"/><circle cx="333.8" cy="303.8" r="0.6"/><circle cx="301.4" cy="324.5" r="0.6"/><circle cx="328.2" cy="300.1" r="0.6"/><circle cx="302.9" cy="321.1" r="0.6"/><circle cx="347.1" cy="295.5" r="0.6"/><circle cx="317.6" cy="306.0" r="0.6"/><circle cx="302.9" cy="318.8" r="0.6"/><circle cx="310.2" cy="312.4" r="0.6"/><circle cx="324.2" cy="307.1" r="0.6"/><circle cx="329.8" cy="303.5" r="0.6"/><circle cx="323.2" cy="307.6" r="0.6"/><circle cx="312.2" cy="311.8" r="0.6"/><circle cx="335.9" cy="304.5" r="0.6"/><circle cx="315.1" cy="319.4" r="0.6"/><circle cx="316.6" cy="309.2" r="0.6"/><circle cx="331.0" cy="307.0" r="0.6"/><circle cx="331.4" cy="297.4" r="0.6"/><circle cx="337.5" cy="296.9" r="0.6"/><circle cx="320.6" cy="305.7" r="0.6"/><circle cx="320.9" cy="312.0" r="0.6"/><circle cx="299.8" cy="316.4" r="0.6"/><circle cx="313.6" cy="315.3" r="0.6"/><circle cx="321.2" cy="312.6" r="0.6"/><circle cx="327.8" cy="301.8" r="0.6"/><circle cx="328.2" cy="307.4" r="0.6"/><circle cx="342.0" cy="301.4" r="0.6"/><circle cx="342.5" cy="290.6" r="0.6"/><circle cx="300.3" cy="325.3" r="0.6"/><circle cx="330.0" cy="301.2" r="0.6"/><circle cx="324.4" cy="307.2" r="0.6"/><circle cx="306.2" cy="317.3" r="0.6"/><circle cx="308.1" cy="315.3" r="0.6"/><circle cx="306.3" cy="316.7" r="0.6"/><circle cx="324.5" cy="300.8" r="0.6"/><circle cx="345.9" cy="294.1" r="0.6"/><circle cx="334.3" cy="299.2" r="0.6"/><circle cx="341.7" cy="296.1" r="0.6"/><circle cx="328.5" cy="306.7" r="0.6"/><circle cx="328.1" cy="306.1" r="0.6"/><circle cx="321.0" cy="310.6" r="0.6"/><circle cx="337.8" cy="302.7" r="0.6"/><circle cx="302.2" cy="315.3" r="0.6"/><circle cx="312.1" cy="314.4" r="0.6"/><circle cx="323.2" cy="312.0" r="0.6"/><circle cx="303.9" cy="324.2" r="0.6"/><circle cx="342.6" cy="301.5" r="0.6"/><circle cx="331.6" cy="298.0" r="0.6"/><circle cx="306.5" cy="319.7" r="0.6"/><circle cx="330.1" cy="301.1" r="0.6"/><circle cx="336.1" cy="294.3" r="0.6"/><circle cx="307.2" cy="315.6" r="0.6"/><circle cx="325.2" cy="308.2" r="0.6"/><circle cx="313.1" cy="317.2" r="0.6"/><circle cx="324.9" cy="305.3" r="0.6"/><circle cx="317.1" cy="316.7" r="0.6"/><circle cx="335.4" cy="295.2" r="0.6"/><circle cx="339.5" cy="294.2" r="0.6"/><circle cx="298.6" cy="325.1" r="0.6"/><circle cx="301.4" cy="320.9" r="0.6"/><circle cx="330.4" cy="303.5" r="0.6"/><circle cx="329.3" cy="304.9" r="0.6"/><circle cx="315.3" cy="311.0" r="0.6"/><circle cx="308.3" cy="315.1" r="0.6"/><circle cx="347.1" cy="288.1" r="0.6"/><circle cx="301.7" cy="319.6" r="0.6"/><circle cx="329.8" cy="305.3" r="0.6"/><circle cx="322.5" cy="304.8" r="0.6"/><circle cx="324.6" cy="305.4" r="0.6"/><circle cx="321.8" cy="311.8" r="0.6"/><circle cx="310.4" cy="316.5" r="0.6"/><circle cx="343.8" cy="294.4" r="0.6"/><circle cx="331.8" cy="306.1" r="0.6"/><circle cx="326.0" cy="306.2" r="0.6"/><circle cx="299.7" cy="325.6" r="0.6"/><circle cx="333.7" cy="302.1" r="0.6"/><circle cx="303.2" cy="318.5" r="0.6"/><circle cx="319.9" cy="312.7" r="0.6"/><circle cx="318.5" cy="310.9" r="0.6"/><circle cx="302.7" cy="324.4" r="0.6"/><circle cx="301.2" cy="325.7" r="0.6"/><circle cx="325.8" cy="306.7" r="0.6"/><circle cx="305.3" cy="322.7" r="0.6"/><circle cx="315.4" cy="310.0" r="0.6"/><circle cx="300.5" cy="321.8" r="0.6"/><circle cx="327.5" cy="303.9" r="0.6"/><circle cx="299.2" cy="325.5" r="0.6"/><circle cx="321.8" cy="317.1" r="0.6"/><circle cx="323.8" cy="306.3" r="0.6"/><circle cx="335.6" cy="298.9" r="0.6"/><circle cx="302.4" cy="314.3" r="0.6"/><circle cx="298.1" cy="322.4" r="0.6"/><circle cx="298.0" cy="319.5" r="0.6"/><circle cx="346.2" cy="294.1" r="0.6"/><circle cx="304.4" cy="323.5" r="0.6"/><circle cx="315.7" cy="316.5" r="0.6"/><circle cx="302.2" cy="318.3" r="0.6"/><circle cx="313.8" cy="315.0" r="0.6"/><circle cx="301.1" cy="325.0" r="0.6"/><circle cx="343.1" cy="294.2" r="0.6"/><circle cx="298.6" cy="323.0" r="0.6"/><circle cx="306.8" cy="318.7" r="0.6"/><circle cx="343.4" cy="294.8" r="0.6"/><circle cx="334.3" cy="296.6" r="0.6"/><circle cx="328.0" cy="305.5" r="0.6"/><circle cx="332.0" cy="302.8" r="0.6"/><circle cx="306.5" cy="316.7" r="0.6"/><circle cx="344.5" cy="299.6" r="0.6"/><circle cx="299.0" cy="317.5" r="0.6"/><circle cx="298.4" cy="323.8" r="0.6"/><circle cx="329.1" cy="303.1" r="0.6"/><circle cx="322.6" cy="307.6" r="0.6"/><circle cx="310.7" cy="310.6" r="0.6"/><circle cx="322.2" cy="303.3" r="0.6"/><circle cx="325.2" cy="310.4" r="0.6"/><circle cx="346.8" cy="293.1" r="0.6"/><circle cx="298.4" cy="325.3" r="0.6"/><circle cx="298.0" cy="323.9" r="0.6"/><circle cx="320.7" cy="306.7" r="0.6"/><circle cx="299.5" cy="325.7" r="0.6"/><circle cx="299.3" cy="324.0" r="0.6"/><circle cx="322.5" cy="309.7" r="0.6"/><circle cx="323.8" cy="305.5" r="0.6"/><circle cx="299.3" cy="322.8" r="0.6"/><circle cx="339.0" cy="300.9" r="0.6"/><circle cx="314.5" cy="313.4" r="0.6"/><circle cx="320.8" cy="311.4" r="0.6"/><circle cx="326.5" cy="310.6" r="0.6"/><circle cx="329.7" cy="307.8" r="0.6"/><circle cx="303.7" cy="318.1" r="0.6"/><circle cx="304.4" cy="316.7" r="0.6"/><circle cx="327.6" cy="312.7" r="0.6"/><circle cx="307.2" cy="315.5" r="0.6"/><circle cx="321.4" cy="307.8" r="0.6"/><circle cx="336.5" cy="305.3" r="0.6"/><circle cx="324.0" cy="308.7" r="0.6"/><circle cx="311.6" cy="311.1" r="0.6"/><circle cx="328.3" cy="307.2" r="0.6"/><circle cx="301.4" cy="325.6" r="0.6"/><circle cx="302.6" cy="314.3" r="0.6"/><circle cx="342.5" cy="292.9" r="0.6"/><circle cx="344.9" cy="294.1" r="0.6"/><circle cx="317.9" cy="308.7" r="0.6"/><circle cx="302.6" cy="316.4" r="0.6"/><circle cx="341.2" cy="297.4" r="0.6"/><circle cx="342.7" cy="295.9" r="0.6"/><circle cx="298.1" cy="322.2" r="0.6"/><circle cx="299.9" cy="319.6" r="0.6"/><circle cx="321.4" cy="308.2" r="0.6"/><circle cx="307.1" cy="316.4" r="0.6"/><circle cx="333.4" cy="301.5" r="0.6"/><circle cx="320.8" cy="308.1" r="0.6"/><circle cx="346.9" cy="294.6" r="0.6"/><circle cx="327.7" cy="303.0" r="0.6"/><circle cx="338.6" cy="299.0" r="0.6"/><circle cx="299.0" cy="324.1" r="0.6"/><circle cx="298.6" cy="325.9" r="0.6"/><circle cx="325.3" cy="301.3" r="0.6"/><circle cx="319.3" cy="304.7" r="0.6"/><circle cx="322.2" cy="308.2" r="0.6"/><circle cx="322.8" cy="305.2" r="0.6"/><circle cx="322.6" cy="308.6" r="0.6"/><circle cx="326.0" cy="303.1" r="0.6"/><circle cx="301.6" cy="323.1" r="0.6"/><circle cx="334.3" cy="298.9" r="0.6"/><circle cx="321.2" cy="311.6" r="0.6"/><circle cx="298.2" cy="325.6" r="0.6"/><circle cx="318.8" cy="309.8" r="0.6"/><circle cx="299.4" cy="324.1" r="0.6"/><circle cx="308.1" cy="316.7" r="0.6"/><circle cx="298.6" cy="324.9" r="0.6"/><circle cx="301.6" cy="321.1" r="0.6"/><circle cx="322.7" cy="304.6" r="0.6"/><circle cx="300.4" cy="322.9" r="0.6"/><circle cx="325.7" cy="304.1" r="0.6"/><circle cx="321.8" cy="310.9" r="0.6"/><circle cx="316.7" cy="310.9" r="0.6"/><circle cx="299.4" cy="319.1" r="0.6"/><circle cx="298.0" cy="323.5" r="0.6"/><circle cx="335.9" cy="296.6" r="0.6"/><circle cx="336.7" cy="298.7" r="0.6"/><circle cx="310.2" cy="319.0" r="0.6"/><circle cx="323.0" cy="310.3" r="0.6"/><circle cx="314.0" cy="312.3" r="0.6"/><circle cx="298.2" cy="323.8" r="0.6"/><circle cx="299.8" cy="320.4" r="0.6"/><circle cx="317.4" cy="304.3" r="0.6"/><circle cx="309.4" cy="315.6" r="0.6"/><circle cx="330.0" cy="312.3" r="0.6"/><circle cx="325.8" cy="305.6" r="0.6"/><circle cx="325.4" cy="303.1" r="0.6"/><circle cx="330.7" cy="303.0" r="0.6"/><circle cx="307.0" cy="320.0" r="0.6"/><circle cx="305.9" cy="314.8" r="0.6"/><circle cx="324.1" cy="303.1" r="0.6"/><circle cx="308.6" cy="316.7" r="0.6"/><circle cx="343.3" cy="293.8" r="0.6"/><circle cx="330.6" cy="301.4" r="0.6"/><circle cx="299.8" cy="325.9" r="0.6"/><circle cx="300.4" cy="324.5" r="0.6"/><circle cx="327.0" cy="306.9" r="0.6"/><circle cx="328.3" cy="304.0" r="0.6"/><circle cx="303.4" cy="319.6" r="0.6"/><circle cx="347.1" cy="291.3" r="0.6"/><circle cx="335.8" cy="298.2" r="0.6"/><circle cx="338.5" cy="296.7" r="0.6"/><circle cx="327.5" cy="305.4" r="0.6"/><circle cx="324.7" cy="307.4" r="0.6"/><circle cx="305.7" cy="320.5" r="0.6"/><circle cx="342.0" cy="291.8" r="0.6"/><circle cx="334.3" cy="298.6" r="0.6"/><circle cx="346.8" cy="290.0" r="0.6"/><circle cx="343.2" cy="295.0" r="0.6"/><circle cx="324.7" cy="301.8" r="0.6"/><circle cx="307.8" cy="318.5" r="0.6"/><circle cx="330.4" cy="305.7" r="0.6"/><circle cx="301.6" cy="325.2" r="0.6"/><circle cx="302.8" cy="318.8" r="0.6"/><circle cx="307.5" cy="317.0" r="0.6"/><circle cx="313.4" cy="310.2" r="0.6"/><circle cx="318.5" cy="311.9" r="0.6"/><circle cx="300.5" cy="322.2" r="0.6"/><circle cx="324.1" cy="307.0" r="0.6"/><circle cx="330.7" cy="302.4" r="0.6"/><circle cx="340.4" cy="302.4" r="0.6"/><circle cx="302.5" cy="315.9" r="0.6"/><circle cx="339.1" cy="294.3" r="0.6"/><circle cx="325.2" cy="311.1" r="0.6"/><circle cx="311.6" cy="315.2" r="0.6"/><circle cx="298.0" cy="325.5" r="0.6"/><circle cx="318.1" cy="308.7" r="0.6"/><circle cx="318.8" cy="310.3" r="0.6"/><circle cx="311.1" cy="316.4" r="0.6"/><circle cx="302.6" cy="317.7" r="0.6"/><circle cx="298.8" cy="322.1" r="0.6"/><circle cx="342.7" cy="294.4" r="0.6"/><circle cx="322.4" cy="308.5" r="0.6"/><circle cx="300.8" cy="324.1" r="0.6"/><circle cx="331.3" cy="302.1" r="0.6"/><circle cx="326.2" cy="304.3" r="0.6"/><circle cx="313.6" cy="318.5" r="0.6"/><circle cx="318.6" cy="308.8" r="0.6"/><circle cx="299.0" cy="325.5" r="0.6"/><circle cx="300.9" cy="324.6" r="0.6"/><circle cx="322.7" cy="309.4" r="0.6"/><circle cx="307.5" cy="318.9" r="0.6"/><circle cx="343.8" cy="290.3" r="0.6"/><circle cx="303.4" cy="319.0" r="0.6"/><circle cx="342.5" cy="300.3" r="0.6"/><circle cx="304.0" cy="323.6" r="0.6"/><circle cx="327.2" cy="304.0" r="0.6"/><circle cx="319.2" cy="312.5" r="0.6"/><circle cx="314.5" cy="312.3" r="0.6"/><circle cx="300.0" cy="321.5" r="0.6"/><circle cx="310.5" cy="315.0" r="0.6"/><circle cx="330.5" cy="303.8" r="0.6"/><circle cx="322.6" cy="311.4" r="0.6"/><circle cx="306.3" cy="320.2" r="0.6"/><circle cx="326.0" cy="305.7" r="0.6"/><circle cx="309.4" cy="317.3" r="0.6"/><circle cx="308.3" cy="321.6" r="0.6"/><circle cx="315.6" cy="313.2" r="0.6"/><circle cx="298.3" cy="316.9" r="0.6"/><circle cx="309.0" cy="317.2" r="0.6"/><circle cx="328.4" cy="300.0" r="0.6"/><circle cx="333.1" cy="299.5" r="0.6"/><circle cx="306.6" cy="311.8" r="0.6"/><circle cx="303.4" cy="315.8" r="0.6"/><circle cx="323.4" cy="306.6" r="0.6"/><circle cx="311.4" cy="314.2" r="0.6"/><circle cx="324.4" cy="304.6" r="0.6"/><circle cx="304.8" cy="314.7" r="0.6"/><circle cx="302.1" cy="319.3" r="0.6"/><circle cx="320.1" cy="309.8" r="0.6"/><circle cx="328.1" cy="303.4" r="0.6"/><circle cx="319.0" cy="310.4" r="0.6"/><circle cx="330.5" cy="304.6" r="0.6"/><circle cx="323.4" cy="308.6" r="0.6"/><circle cx="309.1" cy="314.5" r="0.6"/><circle cx="320.3" cy="311.4" r="0.6"/><circle cx="300.8" cy="325.3" r="0.6"/><circle cx="338.1" cy="293.5" r="0.6"/><circle cx="305.7" cy="322.8" r="0.6"/><circle cx="305.3" cy="319.7" r="0.6"/><circle cx="328.1" cy="303.6" r="0.6"/><circle cx="315.6" cy="308.7" r="0.6"/></g>
<g fill="#acacac"><circle cx="352.8" cy="288.3" r="0.62"/><circle cx="349.8" cy="288.1" r="0.62"/><circle cx="364.2" cy="282.8" r="0.62"/><circle cx="352.6" cy="292.2" r="0.62"/><circle cx="354.6" cy="287.5" r="0.62"/><circle cx="350.1" cy="289.0" r="0.62"/><circle cx="398.0" cy="262.8" r="0.62"/><circle cx="354.6" cy="287.5" r="0.62"/><circle cx="372.6" cy="274.7" r="0.62"/><circle cx="413.3" cy="250.3" r="0.62"/><circle cx="396.7" cy="260.9" r="0.62"/><circle cx="369.3" cy="282.0" r="0.62"/><circle cx="387.3" cy="269.0" r="0.62"/><circle cx="386.7" cy="271.7" r="0.62"/><circle cx="351.0" cy="294.6" r="0.62"/><circle cx="372.3" cy="278.1" r="0.62"/><circle cx="361.1" cy="287.0" r="0.62"/><circle cx="352.6" cy="288.8" r="0.62"/><circle cx="350.7" cy="289.1" r="0.62"/><circle cx="411.6" cy="253.5" r="0.62"/><circle cx="400.7" cy="258.5" r="0.62"/><circle cx="353.8" cy="286.6" r="0.62"/><circle cx="351.9" cy="289.3" r="0.62"/><circle cx="353.5" cy="286.9" r="0.62"/><circle cx="354.2" cy="290.2" r="0.62"/><circle cx="388.2" cy="265.8" r="0.62"/><circle cx="355.4" cy="288.0" r="0.62"/><circle cx="385.1" cy="269.5" r="0.62"/><circle cx="350.5" cy="294.5" r="0.62"/><circle cx="357.9" cy="286.0" r="0.62"/><circle cx="409.0" cy="252.7" r="0.62"/><circle cx="353.6" cy="288.5" r="0.62"/><circle cx="390.7" cy="265.4" r="0.62"/><circle cx="391.4" cy="264.3" r="0.62"/><circle cx="382.3" cy="272.0" r="0.62"/><circle cx="399.1" cy="262.8" r="0.62"/><circle cx="379.5" cy="275.1" r="0.62"/><circle cx="354.3" cy="290.7" r="0.62"/><circle cx="402.0" cy="257.8" r="0.62"/><circle cx="350.4" cy="287.3" r="0.62"/><circle cx="374.3" cy="275.4" r="0.62"/><circle cx="349.0" cy="288.2" r="0.62"/><circle cx="360.5" cy="283.8" r="0.62"/><circle cx="392.1" cy="266.4" r="0.62"/><circle cx="386.3" cy="266.9" r="0.62"/><circle cx="374.4" cy="275.7" r="0.62"/><circle cx="390.8" cy="264.6" r="0.62"/><circle cx="364.1" cy="282.3" r="0.62"/><circle cx="352.8" cy="287.3" r="0.62"/><circle cx="354.8" cy="290.1" r="0.62"/><circle cx="365.2" cy="280.2" r="0.62"/><circle cx="358.3" cy="286.1" r="0.62"/><circle cx="350.7" cy="288.6" r="0.62"/><circle cx="361.0" cy="284.2" r="0.62"/><circle cx="385.6" cy="268.9" r="0.62"/><circle cx="350.5" cy="290.4" r="0.62"/><circle cx="410.5" cy="251.8" r="0.62"/><circle cx="357.0" cy="285.9" r="0.62"/><circle cx="413.3" cy="251.8" r="0.62"/><circle cx="348.7" cy="292.5" r="0.62"/><circle cx="353.3" cy="291.5" r="0.62"/><circle cx="367.8" cy="280.3" r="0.62"/><circle cx="353.4" cy="285.7" r="0.62"/><circle cx="354.8" cy="286.7" r="0.62"/><circle cx="351.9" cy="288.5" r="0.62"/><circle cx="368.8" cy="277.6" r="0.62"/><circle cx="350.7" cy="287.9" r="0.62"/><circle cx="354.8" cy="284.6" r="0.62"/><circle cx="356.2" cy="287.0" r="0.62"/><circle cx="352.1" cy="288.0" r="0.62"/><circle cx="362.0" cy="283.2" r="0.62"/><circle cx="379.9" cy="273.5" r="0.62"/><circle cx="350.1" cy="285.3" r="0.62"/><circle cx="354.3" cy="290.6" r="0.62"/><circle cx="393.0" cy="264.3" r="0.62"/><circle cx="355.1" cy="287.1" r="0.62"/><circle cx="358.8" cy="285.3" r="0.62"/><circle cx="352.6" cy="289.4" r="0.62"/><circle cx="365.1" cy="283.0" r="0.62"/><circle cx="354.1" cy="290.5" r="0.62"/><circle cx="350.5" cy="287.6" r="0.62"/><circle cx="347.8" cy="296.1" r="0.62"/><circle cx="352.6" cy="288.2" r="0.62"/><circle cx="350.5" cy="290.2" r="0.62"/><circle cx="376.2" cy="273.6" r="0.62"/><circle cx="348.5" cy="291.1" r="0.62"/><circle cx="392.6" cy="263.7" r="0.62"/><circle cx="397.7" cy="260.5" r="0.62"/><circle cx="352.0" cy="291.2" r="0.62"/><circle cx="377.4" cy="271.8" r="0.62"/><circle cx="378.0" cy="271.2" r="0.62"/><circle cx="396.9" cy="260.1" r="0.62"/><circle cx="397.5" cy="260.8" r="0.62"/><circle cx="350.6" cy="293.0" r="0.62"/><circle cx="348.3" cy="290.8" r="0.62"/><circle cx="349.3" cy="286.9" r="0.62"/><circle cx="348.4" cy="293.8" r="0.62"/><circle cx="352.2" cy="288.2" r="0.62"/><circle cx="352.1" cy="289.2" r="0.62"/><circle cx="350.8" cy="290.7" r="0.62"/><circle cx="379.2" cy="271.7" r="0.62"/><circle cx="383.7" cy="271.5" r="0.62"/><circle cx="383.9" cy="272.2" r="0.62"/><circle cx="351.4" cy="291.3" r="0.62"/><circle cx="352.2" cy="287.2" r="0.62"/><circle cx="352.4" cy="287.3" r="0.62"/><circle cx="349.0" cy="291.7" r="0.62"/><circle cx="396.9" cy="260.2" r="0.62"/><circle cx="347.9" cy="289.8" r="0.62"/><circle cx="350.7" cy="288.3" r="0.62"/><circle cx="350.3" cy="286.8" r="0.62"/><circle cx="349.5" cy="290.2" r="0.62"/><circle cx="351.4" cy="293.2" r="0.62"/><circle cx="350.7" cy="292.1" r="0.62"/><circle cx="377.6" cy="275.9" r="0.62"/><circle cx="353.4" cy="289.9" r="0.62"/><circle cx="349.6" cy="296.6" r="0.62"/><circle cx="351.8" cy="288.6" r="0.62"/><circle cx="353.1" cy="290.0" r="0.62"/><circle cx="413.6" cy="251.5" r="0.62"/><circle cx="406.5" cy="255.7" r="0.62"/><circle cx="354.3" cy="287.4" r="0.62"/><circle cx="352.4" cy="289.1" r="0.62"/><circle cx="351.5" cy="290.3" r="0.62"/><circle cx="350.3" cy="292.7" r="0.62"/><circle cx="349.4" cy="293.3" r="0.62"/><circle cx="361.5" cy="284.8" r="0.62"/><circle cx="349.4" cy="292.9" r="0.62"/><circle cx="349.2" cy="290.8" r="0.62"/><circle cx="352.3" cy="290.7" r="0.62"/><circle cx="351.3" cy="288.6" r="0.62"/><circle cx="408.9" cy="254.5" r="0.62"/><circle cx="396.3" cy="260.3" r="0.62"/><circle cx="350.2" cy="292.1" r="0.62"/><circle cx="350.8" cy="291.6" r="0.62"/><circle cx="351.8" cy="291.0" r="0.62"/><circle cx="362.7" cy="283.9" r="0.62"/><circle cx="377.0" cy="274.4" r="0.62"/><circle cx="372.1" cy="275.9" r="0.62"/><circle cx="354.4" cy="288.2" r="0.62"/><circle cx="349.7" cy="292.2" r="0.62"/><circle cx="348.8" cy="290.4" r="0.62"/><circle cx="348.3" cy="293.1" r="0.62"/><circle cx="358.1" cy="288.9" r="0.62"/><circle cx="354.9" cy="289.4" r="0.62"/><circle cx="375.2" cy="276.7" r="0.62"/><circle cx="389.7" cy="264.4" r="0.62"/><circle cx="370.9" cy="282.2" r="0.62"/><circle cx="347.7" cy="295.9" r="0.62"/><circle cx="353.3" cy="287.7" r="0.62"/><circle cx="402.4" cy="258.0" r="0.62"/><circle cx="353.3" cy="290.4" r="0.62"/><circle cx="382.2" cy="271.8" r="0.62"/><circle cx="354.2" cy="290.6" r="0.62"/><circle cx="396.2" cy="260.9" r="0.62"/><circle cx="403.0" cy="257.3" r="0.62"/><circle cx="389.8" cy="266.8" r="0.62"/><circle cx="348.0" cy="294.2" r="0.62"/><circle cx="385.8" cy="266.9" r="0.62"/><circle cx="348.0" cy="293.8" r="0.62"/><circle cx="394.3" cy="263.4" r="0.62"/><circle cx="386.3" cy="268.5" r="0.62"/><circle cx="352.3" cy="290.5" r="0.62"/><circle cx="351.9" cy="288.1" r="0.62"/><circle cx="347.8" cy="291.1" r="0.62"/><circle cx="406.8" cy="253.1" r="0.62"/><circle cx="384.5" cy="272.6" r="0.62"/><circle cx="374.8" cy="276.4" r="0.62"/><circle cx="392.1" cy="265.6" r="0.62"/><circle cx="380.5" cy="271.5" r="0.62"/><circle cx="384.6" cy="268.2" r="0.62"/><circle cx="403.7" cy="259.1" r="0.62"/><circle cx="347.8" cy="288.8" r="0.62"/><circle cx="378.8" cy="272.6" r="0.62"/><circle cx="383.9" cy="268.8" r="0.62"/><circle cx="353.1" cy="286.6" r="0.62"/><circle cx="350.8" cy="294.0" r="0.62"/><circle cx="396.1" cy="263.4" r="0.62"/><circle cx="349.7" cy="289.8" r="0.62"/><circle cx="389.1" cy="267.6" r="0.62"/><circle cx="381.9" cy="271.7" r="0.62"/><circle cx="362.0" cy="283.5" r="0.62"/><circle cx="349.4" cy="290.5" r="0.62"/><circle cx="349.8" cy="291.8" r="0.62"/><circle cx="386.0" cy="267.8" r="0.62"/><circle cx="351.5" cy="291.3" r="0.62"/><circle cx="354.0" cy="290.0" r="0.62"/><circle cx="367.4" cy="279.7" r="0.62"/><circle cx="351.7" cy="288.9" r="0.62"/><circle cx="376.0" cy="276.0" r="0.62"/><circle cx="385.1" cy="267.4" r="0.62"/><circle cx="347.7" cy="293.9" r="0.62"/><circle cx="354.7" cy="288.9" r="0.62"/><circle cx="350.7" cy="294.9" r="0.62"/><circle cx="366.4" cy="280.0" r="0.62"/><circle cx="392.8" cy="260.6" r="0.62"/><circle cx="391.8" cy="269.1" r="0.62"/><circle cx="350.0" cy="290.3" r="0.62"/><circle cx="351.9" cy="289.9" r="0.62"/><circle cx="351.3" cy="293.3" r="0.62"/><circle cx="354.7" cy="289.7" r="0.62"/><circle cx="378.1" cy="272.8" r="0.62"/><circle cx="349.1" cy="292.4" r="0.62"/><circle cx="357.5" cy="284.0" r="0.62"/><circle cx="394.8" cy="261.2" r="0.62"/><circle cx="399.4" cy="259.3" r="0.62"/><circle cx="355.2" cy="288.7" r="0.62"/><circle cx="380.0" cy="271.2" r="0.62"/><circle cx="358.3" cy="285.3" r="0.62"/><circle cx="352.9" cy="288.7" r="0.62"/><circle cx="364.9" cy="282.1" r="0.62"/><circle cx="377.9" cy="276.0" r="0.62"/><circle cx="352.9" cy="291.4" r="0.62"/><circle cx="350.7" cy="291.8" r="0.62"/><circle cx="353.6" cy="291.2" r="0.62"/><circle cx="374.8" cy="273.1" r="0.62"/><circle cx="352.6" cy="289.6" r="0.62"/><circle cx="350.2" cy="293.2" r="0.62"/><circle cx="370.3" cy="278.9" r="0.62"/><circle cx="351.1" cy="290.3" r="0.62"/><circle cx="388.4" cy="267.2" r="0.62"/><circle cx="352.3" cy="290.6" r="0.62"/><circle cx="393.9" cy="262.4" r="0.62"/><circle cx="378.3" cy="274.4" r="0.62"/><circle cx="353.9" cy="285.5" r="0.62"/><circle cx="400.1" cy="260.4" r="0.62"/><circle cx="348.2" cy="291.5" r="0.62"/><circle cx="367.2" cy="279.8" r="0.62"/><circle cx="350.6" cy="286.1" r="0.62"/><circle cx="357.4" cy="286.9" r="0.62"/><circle cx="387.9" cy="265.0" r="0.62"/><circle cx="376.0" cy="275.2" r="0.62"/><circle cx="386.6" cy="268.7" r="0.62"/><circle cx="356.0" cy="285.8" r="0.62"/><circle cx="411.2" cy="252.6" r="0.62"/><circle cx="357.8" cy="285.0" r="0.62"/><circle cx="361.5" cy="282.9" r="0.62"/><circle cx="350.9" cy="289.2" r="0.62"/><circle cx="347.6" cy="295.7" r="0.62"/><circle cx="349.9" cy="288.6" r="0.62"/><circle cx="353.9" cy="287.8" r="0.62"/><circle cx="398.4" cy="259.6" r="0.62"/><circle cx="352.1" cy="290.2" r="0.62"/><circle cx="394.1" cy="264.5" r="0.62"/><circle cx="407.7" cy="255.6" r="0.62"/><circle cx="397.7" cy="260.6" r="0.62"/><circle cx="352.7" cy="288.8" r="0.62"/><circle cx="371.9" cy="277.6" r="0.62"/><circle cx="348.4" cy="294.4" r="0.62"/><circle cx="378.5" cy="273.2" r="0.62"/><circle cx="385.9" cy="266.5" r="0.62"/><circle cx="361.3" cy="283.8" r="0.62"/><circle cx="391.2" cy="264.4" r="0.62"/><circle cx="347.6" cy="296.0" r="0.62"/><circle cx="379.3" cy="273.2" r="0.62"/><circle cx="348.8" cy="290.9" r="0.62"/><circle cx="354.0" cy="288.5" r="0.62"/><circle cx="351.5" cy="290.5" r="0.62"/><circle cx="401.1" cy="262.0" r="0.62"/><circle cx="387.0" cy="267.1" r="0.62"/><circle cx="395.2" cy="260.5" r="0.62"/><circle cx="407.8" cy="255.0" r="0.62"/><circle cx="356.0" cy="289.5" r="0.62"/><circle cx="352.4" cy="290.1" r="0.62"/><circle cx="354.5" cy="287.4" r="0.62"/><circle cx="389.5" cy="265.3" r="0.62"/><circle cx="365.9" cy="281.8" r="0.62"/><circle cx="355.8" cy="287.3" r="0.62"/><circle cx="368.5" cy="280.7" r="0.62"/><circle cx="379.9" cy="271.2" r="0.62"/><circle cx="411.2" cy="255.0" r="0.62"/><circle cx="373.5" cy="275.8" r="0.62"/><circle cx="393.5" cy="263.1" r="0.62"/><circle cx="357.0" cy="287.8" r="0.62"/><circle cx="352.4" cy="286.5" r="0.62"/><circle cx="351.5" cy="290.4" r="0.62"/><circle cx="349.2" cy="289.7" r="0.62"/><circle cx="370.0" cy="278.9" r="0.62"/><circle cx="403.7" cy="259.3" r="0.62"/><circle cx="350.8" cy="289.1" r="0.62"/><circle cx="358.3" cy="289.1" r="0.62"/><circle cx="359.6" cy="282.9" r="0.62"/><circle cx="353.5" cy="287.8" r="0.62"/><circle cx="350.4" cy="286.9" r="0.62"/><circle cx="355.4" cy="285.2" r="0.62"/><circle cx="380.3" cy="271.4" r="0.62"/><circle cx="347.9" cy="290.8" r="0.62"/><circle cx="353.2" cy="288.6" r="0.62"/><circle cx="404.3" cy="258.3" r="0.62"/><circle cx="408.9" cy="255.0" r="0.62"/><circle cx="406.4" cy="259.7" r="0.62"/><circle cx="355.4" cy="286.8" r="0.62"/><circle cx="350.8" cy="290.3" r="0.62"/><circle cx="365.0" cy="280.1" r="0.62"/><circle cx="424.7" cy="244.2" r="0.62"/><circle cx="430.7" cy="245.1" r="0.62"/><circle cx="466.3" cy="221.4" r="0.62"/><circle cx="414.3" cy="254.5" r="0.62"/></g>
<line x1="289.30" y1="216.00" x2="289.30" y2="329.70" stroke="#262626" stroke-width="1.0"/>
<line x1="288.80" y1="329.20" x2="474.20" y2="329.20" stroke="#262626" stroke-width="1.0"/>
<line x1="286.30" y1="323.70" x2="289.30" y2="323.70" stroke="#262626" stroke-width="0.9"/>
<text x="283.00" y="326.00" font-size="6.5" text-anchor="end" fill="#262626" >0</text>
<line x1="298.00" y1="329.20" x2="298.00" y2="332.20" stroke="#262626" stroke-width="0.9"/>
<text x="298.00" y="341.10" font-size="6.5" text-anchor="middle" fill="#262626" >0</text>
<line x1="286.30" y1="293.60" x2="289.30" y2="293.60" stroke="#262626" stroke-width="0.9"/>
<text x="283.00" y="295.90" font-size="6.5" text-anchor="end" fill="#262626" >2</text>
<line x1="347.50" y1="329.20" x2="347.50" y2="332.20" stroke="#262626" stroke-width="0.9"/>
<text x="347.50" y="341.10" font-size="6.5" text-anchor="middle" fill="#262626" >2</text>
<line x1="286.30" y1="263.50" x2="289.30" y2="263.50" stroke="#262626" stroke-width="0.9"/>
<text x="283.00" y="265.80" font-size="6.5" text-anchor="end" fill="#262626" >4</text>
<line x1="397.00" y1="329.20" x2="397.00" y2="332.20" stroke="#262626" stroke-width="0.9"/>
<text x="397.00" y="341.10" font-size="6.5" text-anchor="middle" fill="#262626" >4</text>
<line x1="286.30" y1="233.40" x2="289.30" y2="233.40" stroke="#262626" stroke-width="0.9"/>
<text x="283.00" y="235.70" font-size="6.5" text-anchor="end" fill="#262626" >6</text>
<line x1="446.50" y1="329.20" x2="446.50" y2="332.20" stroke="#262626" stroke-width="0.9"/>
<text x="446.50" y="341.10" font-size="6.5" text-anchor="middle" fill="#262626" >6</text>
<text x="382.0" y="210.5" font-size="9.0" text-anchor="middle" fill="#111" textLength="33.9" lengthAdjust="spacingAndGlyphs">Cluster 3</text>
<text x="382.2" y="353.4" font-size="8.5" text-anchor="middle" fill="#262626" style="stroke-width:0.3px" textLength="65.3" lengthAdjust="spacingAndGlyphs">Unstimulated expression</text>
<text transform="translate(273.6,272.8) rotate(-90)" font-size="7.6" text-anchor="middle" fill="#262626" style="stroke-width:0.3px" textLength="70.6" lengthAdjust="spacingAndGlyphs">IL-2 stimulated expression</text>
<line x1="322.60" y1="280.20" x2="315.20" y2="304.60" stroke="#333" stroke-width="0.7"/>
<line x1="296.00" y1="290.60" x2="303.50" y2="305.00" stroke="#333" stroke-width="0.7"/>
<line x1="308.60" y1="299.20" x2="307.20" y2="306.00" stroke="#333" stroke-width="0.7"/>
<line x1="326.90" y1="289.00" x2="326.80" y2="291.80" stroke="#333" stroke-width="0.7"/>
<line x1="333.00" y1="295.00" x2="331.50" y2="294.00" stroke="#333" stroke-width="0.7"/>
<line x1="319.50" y1="303.80" x2="311.00" y2="306.50" stroke="#333" stroke-width="0.7"/>
<line x1="324.50" y1="307.80" x2="309.80" y2="307.40" stroke="#333" stroke-width="0.7"/>
<line x1="315.60" y1="313.40" x2="309.30" y2="308.20" stroke="#333" stroke-width="0.7"/>
<line x1="318.80" y1="320.70" x2="308.80" y2="307.80" stroke="#333" stroke-width="0.7"/>
<line x1="303.60" y1="311.20" x2="304.80" y2="308.40" stroke="#333" stroke-width="0.7"/>
<line x1="305.80" y1="315.60" x2="305.00" y2="311.20" stroke="#333" stroke-width="0.7"/>
<line x1="294.30" y1="320.80" x2="298.30" y2="315.60" stroke="#333" stroke-width="0.7"/>
<line x1="349.30" y1="276.00" x2="349.20" y2="273.80" stroke="#333" stroke-width="0.7"/>
<line x1="357.80" y1="279.60" x2="355.80" y2="281.00" stroke="#333" stroke-width="0.7"/>
<line x1="370.00" y1="288.60" x2="367.80" y2="290.00" stroke="#333" stroke-width="0.7"/>
<line x1="369.60" y1="264.00" x2="368.90" y2="266.00" stroke="#333" stroke-width="0.7"/>
<circle cx="304.8" cy="308.3" r="0.95" fill="#c4122f"/>
<circle cx="306.4" cy="306.6" r="0.95" fill="#c4122f"/>
<circle cx="307.3" cy="306.2" r="0.95" fill="#c4122f"/>
<circle cx="309.3" cy="307.6" r="0.95" fill="#c4122f"/>
<circle cx="311.1" cy="306.5" r="0.95" fill="#c4122f"/>
<circle cx="315.2" cy="304.8" r="0.95" fill="#c4122f"/>
<circle cx="303.5" cy="305.2" r="0.95" fill="#c4122f"/>
<circle cx="304.8" cy="311.1" r="0.95" fill="#c4122f"/>
<circle cx="298.4" cy="315.5" r="0.95" fill="#c4122f"/>
<circle cx="326.8" cy="292.2" r="0.95" fill="#c4122f"/>
<circle cx="331.4" cy="293.8" r="0.95" fill="#c4122f"/>
<circle cx="349.2" cy="273.6" r="0.95" fill="#c4122f"/>
<circle cx="355.6" cy="281.2" r="0.95" fill="#c4122f"/>
<circle cx="367.7" cy="290.1" r="0.95" fill="#c4122f"/>
<circle cx="368.8" cy="266.2" r="0.95" fill="#c4122f"/>
<text x="369.70" y="263.40" font-size="5.6" text-anchor="start" font-style="italic" fill="#333" >CCL4</text>
<text x="338.10" y="280.30" font-size="5.6" text-anchor="start" font-style="italic" fill="#333" >CCL3</text>
<text x="358.30" y="278.90" font-size="5.6" text-anchor="start" font-style="italic" fill="#333" >PABPC1</text>
<text x="371.00" y="288.60" font-size="5.6" text-anchor="start" font-style="italic" fill="#333" >MYO1F</text>
<text x="334.00" y="297.10" font-size="5.6" text-anchor="start" font-style="italic" fill="#333" >KLF6</text>
<text x="323.70" y="287.00" font-size="5.6" text-anchor="start" font-style="italic" fill="#333" >PRF1</text>
<text x="308.00" y="278.30" font-size="5.6" text-anchor="start" font-style="italic" fill="#333" >PTGER2</text>
<text x="290.80" y="289.30" font-size="5.6" text-anchor="start" font-style="italic" fill="#333" >MIR155HG</text>
<text x="301.20" y="297.40" font-size="5.6" text-anchor="start" font-style="italic" fill="#333" >CDK6</text>
<text x="320.20" y="304.30" font-size="5.6" text-anchor="start" font-style="italic" fill="#333" >TNNS1ABP</text>
<text x="325.10" y="309.60" font-size="5.6" text-anchor="start" font-style="italic" fill="#333" >LCP2</text>
<text x="315.90" y="316.40" font-size="5.6" text-anchor="start" font-style="italic" fill="#333" >CCND2</text>
<text x="319.30" y="325.60" font-size="5.6" text-anchor="start" font-style="italic" fill="#333" >SOCS1</text>
<text x="289.40" y="314.00" font-size="5.6" text-anchor="start" font-style="italic" fill="#333" >IL2RA</text>
<text x="298.20" y="321.70" font-size="5.6" text-anchor="start" font-style="italic" fill="#333" >BPGM</text>
<text x="291.40" y="325.60" font-size="5.6" text-anchor="start" font-style="italic" fill="#333" >SOCS2</text>
<rect x="19.50" y="520.40" width="71.92" height="120.00" fill="#bab4bc"/>
<rect x="19.20" y="520.40" width="9.4" height="6.6" fill="#2d1a35"/>
<rect x="29.72" y="520.40" width="9.4" height="6.6" fill="#301a38"/>
<rect x="40.24" y="520.40" width="9.4" height="6.6" fill="#3a1f45"/>
<rect x="50.76" y="520.40" width="9.4" height="6.6" fill="#f0e040"/>
<rect x="61.28" y="520.40" width="9.4" height="6.6" fill="#1a1518"/>
<rect x="71.80" y="520.40" width="9.4" height="6.6" fill="#3a1f48"/>
<rect x="82.32" y="520.40" width="9.4" height="6.6" fill="#2f1a38"/>
<text x="94.90" y="525.10" font-size="6.5" text-anchor="start" font-style="italic" fill="#262626" >HERC5</text>
<rect x="19.20" y="526.40" width="9.4" height="6.6" fill="#2f1a38"/>
<rect x="29.72" y="526.40" width="9.4" height="6.6" fill="#3a1f48"/>
<rect x="40.24" y="526.40" width="9.4" height="6.6" fill="#1f181f"/>
<rect x="50.76" y="526.40" width="9.4" height="6.6" fill="#ece23c"/>
<rect x="61.28" y="526.40" width="9.4" height="6.6" fill="#2a1a30"/>
<rect x="71.80" y="526.40" width="9.4" height="6.6" fill="#3a1f48"/>
<rect x="82.32" y="526.40" width="9.4" height="6.6" fill="#2a1a2f"/>
<text x="94.90" y="531.10" font-size="6.5" text-anchor="start" font-style="italic" fill="#262626" >IFIT2</text>
<rect x="19.20" y="532.40" width="9.4" height="6.6" fill="#251a28"/>
<rect x="29.72" y="532.40" width="9.4" height="6.6" fill="#351d40"/>
<rect x="40.24" y="532.40" width="9.4" height="6.6" fill="#3a1f48"/>
<rect x="50.76" y="532.40" width="9.4" height="6.6" fill="#e8e040"/>
<rect x="61.28" y="532.40" width="9.4" height="6.6" fill="#2a1a30"/>
<rect x="71.80" y="532.40" width="9.4" height="6.6" fill="#251a28"/>
<rect x="82.32" y="532.40" width="9.4" height="6.6" fill="#2f1a38"/>
<text x="94.90" y="537.10" font-size="6.5" text-anchor="start" font-style="italic" fill="#262626" >IFIT3</text>
<rect x="19.20" y="538.40" width="9.4" height="6.6" fill="#2a1a30"/>
<rect x="29.72" y="538.40" width="9.4" height="6.6" fill="#201820"/>
<rect x="40.24" y="538.40" width="9.4" height="6.6" fill="#5a2575"/>
<rect x="50.76" y="538.40" width="9.4" height="6.6" fill="#d4cc38"/>
<rect x="61.28" y="538.40" width="9.4" height="6.6" fill="#2a1a2f"/>
<rect x="71.80" y="538.40" width="9.4" height="6.6" fill="#2a1a30"/>
<rect x="82.32" y="538.40" width="9.4" height="6.6" fill="#2f1a38"/>
<text x="94.90" y="543.10" font-size="6.5" text-anchor="start" font-style="italic" fill="#262626" >OASL</text>
<rect x="19.20" y="544.40" width="9.4" height="6.6" fill="#2a1a30"/>
<rect x="29.72" y="544.40" width="9.4" height="6.6" fill="#2a1a30"/>
<rect x="40.24" y="544.40" width="9.4" height="6.6" fill="#2a1a30"/>
<rect x="50.76" y="544.40" width="9.4" height="6.6" fill="#f0e440"/>
<rect x="61.28" y="544.40" width="9.4" height="6.6" fill="#0a0a10"/>
<rect x="71.80" y="544.40" width="9.4" height="6.6" fill="#2a1a30"/>
<rect x="82.32" y="544.40" width="9.4" height="6.6" fill="#301a38"/>
<text x="94.90" y="549.10" font-size="6.5" text-anchor="start" font-style="italic" fill="#262626" >IFIT1</text>
<rect x="19.20" y="550.40" width="9.4" height="6.6" fill="#4a2260"/>
<rect x="29.72" y="550.40" width="9.4" height="6.6" fill="#2a1a30"/>
<rect x="40.24" y="550.40" width="9.4" height="6.6" fill="#3a1f48"/>
<rect x="50.76" y="550.40" width="9.4" height="6.6" fill="#e0d83c"/>
<rect x="61.28" y="550.40" width="9.4" height="6.6" fill="#2f2f1f"/>
<rect x="71.80" y="550.40" width="9.4" height="6.6" fill="#2f1a38"/>
<rect x="82.32" y="550.40" width="9.4" height="6.6" fill="#2f1a38"/>
<text x="94.90" y="555.10" font-size="6.5" text-anchor="start" font-style="italic" fill="#262626" >ISG15</text>
<rect x="19.20" y="556.40" width="9.4" height="6.6" fill="#2a1a30"/>
<rect x="29.72" y="556.40" width="9.4" height="6.6" fill="#1a1a15"/>
<rect x="40.24" y="556.40" width="9.4" height="6.6" fill="#4a2260"/>
<rect x="50.76" y="556.40" width="9.4" height="6.6" fill="#e4dc3c"/>
<rect x="61.28" y="556.40" width="9.4" height="6.6" fill="#25181f"/>
<rect x="71.80" y="556.40" width="9.4" height="6.6" fill="#25251a"/>
<rect x="82.32" y="556.40" width="9.4" height="6.6" fill="#6a2a8a"/>
<text x="94.90" y="561.10" font-size="6.5" text-anchor="start" font-style="italic" fill="#262626" >ISG20</text>
<rect x="19.20" y="562.40" width="9.4" height="6.6" fill="#2a1a30"/>
<rect x="29.72" y="562.40" width="9.4" height="6.6" fill="#1a1a15"/>
<rect x="40.24" y="562.40" width="9.4" height="6.6" fill="#2a1a2f"/>
<rect x="50.76" y="562.40" width="9.4" height="6.6" fill="#f0e440"/>
<rect x="61.28" y="562.40" width="9.4" height="6.6" fill="#3a1f48"/>
<rect x="71.80" y="562.40" width="9.4" height="6.6" fill="#1a1518"/>
<rect x="82.32" y="562.40" width="9.4" height="6.6" fill="#151515"/>
<text x="94.90" y="567.10" font-size="6.5" text-anchor="start" font-style="italic" fill="#262626" >PMAIP1</text>
<rect x="19.20" y="568.40" width="9.4" height="6.6" fill="#2a1a30"/>
<rect x="29.72" y="568.40" width="9.4" height="6.6" fill="#4a2260"/>
<rect x="40.24" y="568.40" width="9.4" height="6.6" fill="#2a1a30"/>
<rect x="50.76" y="568.40" width="9.4" height="6.6" fill="#e8e040"/>
<rect x="61.28" y="568.40" width="9.4" height="6.6" fill="#2a1a30"/>
<rect x="71.80" y="568.40" width="9.4" height="6.6" fill="#4a2260"/>
<rect x="82.32" y="568.40" width="9.4" height="6.6" fill="#3a3a20"/>
<text x="94.90" y="573.10" font-size="6.5" text-anchor="start" font-style="italic" fill="#262626" >ZC3HAV1</text>
<rect x="19.20" y="574.40" width="9.4" height="6.6" fill="#2f2f1f"/>
<rect x="29.72" y="574.40" width="9.4" height="6.6" fill="#151515"/>
<rect x="40.24" y="574.40" width="9.4" height="6.6" fill="#2a1a2f"/>
<rect x="50.76" y="574.40" width="9.4" height="6.6" fill="#d0c838"/>
<rect x="61.28" y="574.40" width="9.4" height="6.6" fill="#3a1f48"/>
<rect x="71.80" y="574.40" width="9.4" height="6.6" fill="#4a2260"/>
<rect x="82.32" y="574.40" width="9.4" height="6.6" fill="#4a2260"/>
<text x="94.90" y="579.10" font-size="6.5" text-anchor="start" font-style="italic" fill="#262626" >RARRES3</text>
<rect x="19.20" y="580.40" width="9.4" height="6.6" fill="#2a1a30"/>
<rect x="29.72" y="580.40" width="9.4" height="6.6" fill="#2f1a38"/>
<rect x="40.24" y="580.40" width="9.4" height="6.6" fill="#2a1a30"/>
<rect x="50.76" y="580.40" width="9.4" height="6.6" fill="#ece43e"/>
<rect x="61.28" y="580.40" width="9.4" height="6.6" fill="#1f1f18"/>
<rect x="71.80" y="580.40" width="9.4" height="6.6" fill="#2a1a30"/>
<rect x="82.32" y="580.40" width="9.4" height="6.6" fill="#4a2260"/>
<text x="94.90" y="585.10" font-size="6.5" text-anchor="start" font-style="italic" fill="#262626" >IFIH1</text>
<rect x="19.20" y="586.40" width="9.4" height="6.6" fill="#4a2260"/>
<rect x="29.72" y="586.40" width="9.4" height="6.6" fill="#3a1f48"/>
<rect x="40.24" y="586.40" width="9.4" height="6.6" fill="#2a1a30"/>
<rect x="50.76" y="586.40" width="9.4" height="6.6" fill="#d8d03a"/>
<rect x="61.28" y="586.40" width="9.4" height="6.6" fill="#2a1a30"/>
<rect x="71.80" y="586.40" width="9.4" height="6.6" fill="#251a28"/>
<rect x="82.32" y="586.40" width="9.4" height="6.6" fill="#5a5a25"/>
<text x="94.90" y="591.10" font-size="6.5" text-anchor="start" font-style="italic" fill="#262626" >IFI44</text>
<rect x="19.20" y="592.40" width="9.4" height="6.6" fill="#1a1518"/>
<rect x="29.72" y="592.40" width="9.4" height="6.6" fill="#050505"/>
<rect x="40.24" y="592.40" width="9.4" height="6.6" fill="#4a2260"/>
<rect x="50.76" y="592.40" width="9.4" height="6.6" fill="#e0d83c"/>
<rect x="61.28" y="592.40" width="9.4" height="6.6" fill="#2f1a38"/>
<rect x="71.80" y="592.40" width="9.4" height="6.6" fill="#2f1a38"/>
<rect x="82.32" y="592.40" width="9.4" height="6.6" fill="#2a1a30"/>
<text x="94.90" y="597.10" font-size="6.5" text-anchor="start" font-style="italic" fill="#262626" >RNF149</text>
<rect x="19.20" y="598.40" width="9.4" height="6.6" fill="#2a1a30"/>
<rect x="29.72" y="598.40" width="9.4" height="6.6" fill="#2f1a38"/>
<rect x="40.24" y="598.40" width="9.4" height="6.6" fill="#3a1f48"/>
<rect x="50.76" y="598.40" width="9.4" height="6.6" fill="#f0e840"/>
<rect x="61.28" y="598.40" width="9.4" height="6.6" fill="#1a1518"/>
<rect x="71.80" y="598.40" width="9.4" height="6.6" fill="#2a1a30"/>
<rect x="82.32" y="598.40" width="9.4" height="6.6" fill="#0f0f10"/>
<text x="94.90" y="603.10" font-size="6.5" text-anchor="start" font-style="italic" fill="#262626" >PARP14</text>
<rect x="19.20" y="604.40" width="9.4" height="6.6" fill="#1f1820"/>
<rect x="29.72" y="604.40" width="9.4" height="6.6" fill="#1f1f18"/>
<rect x="40.24" y="604.40" width="9.4" height="6.6" fill="#4a2260"/>
<rect x="50.76" y="604.40" width="9.4" height="6.6" fill="#9a9430"/>
<rect x="61.28" y="604.40" width="9.4" height="6.6" fill="#5a2575"/>
<rect x="71.80" y="604.40" width="9.4" height="6.6" fill="#8a8a30"/>
<rect x="82.32" y="604.40" width="9.4" height="6.6" fill="#3a1f48"/>
<text x="94.90" y="609.10" font-size="6.5" text-anchor="start" font-style="italic" fill="#262626" >CYTOR</text>
<rect x="19.20" y="610.40" width="9.4" height="6.6" fill="#1f1a1f"/>
<rect x="29.72" y="610.40" width="9.4" height="6.6" fill="#5a2575"/>
<rect x="40.24" y="610.40" width="9.4" height="6.6" fill="#2f1a38"/>
<rect x="50.76" y="610.40" width="9.4" height="6.6" fill="#ece43e"/>
<rect x="61.28" y="610.40" width="9.4" height="6.6" fill="#151515"/>
<rect x="71.80" y="610.40" width="9.4" height="6.6" fill="#3a1f48"/>
<rect x="82.32" y="610.40" width="9.4" height="6.6" fill="#1f1f18"/>
<text x="94.90" y="615.10" font-size="6.5" text-anchor="start" font-style="italic" fill="#262626" >DRAP1</text>
<rect x="19.20" y="616.40" width="9.4" height="6.6" fill="#2a1a30"/>
<rect x="29.72" y="616.40" width="9.4" height="6.6" fill="#2f1a38"/>
<rect x="40.24" y="616.40" width="9.4" height="6.6" fill="#3a1f48"/>
<rect x="50.76" y="616.40" width="9.4" height="6.6" fill="#f0e840"/>
<rect x="61.28" y="616.40" width="9.4" height="6.6" fill="#1a1518"/>
<rect x="71.80" y="616.40" width="9.4" height="6.6" fill="#251a28"/>
<rect x="82.32" y="616.40" width="9.4" height="6.6" fill="#2f1a38"/>
<text x="94.90" y="621.10" font-size="6.5" text-anchor="start" font-style="italic" fill="#262626" >RSAD2</text>
<rect x="19.20" y="622.40" width="9.4" height="6.6" fill="#2f1a38"/>
<rect x="29.72" y="622.40" width="9.4" height="6.6" fill="#2a1a30"/>
<rect x="40.24" y="622.40" width="9.4" height="6.6" fill="#4a2260"/>
<rect x="50.76" y="622.40" width="9.4" height="6.6" fill="#ddd53c"/>
<rect x="61.28" y="622.40" width="9.4" height="6.6" fill="#2f1a38"/>
<rect x="71.80" y="622.40" width="9.4" height="6.6" fill="#251a28"/>
<rect x="82.32" y="622.40" width="9.4" height="6.6" fill="#2a1a30"/>
<text x="94.90" y="627.10" font-size="6.5" text-anchor="start" font-style="italic" fill="#262626" >HERC6</text>
<rect x="19.20" y="628.40" width="9.4" height="6.6" fill="#151515"/>
<rect x="29.72" y="628.40" width="9.4" height="6.6" fill="#1a1518"/>
<rect x="40.24" y="628.40" width="9.4" height="6.6" fill="#4a2260"/>
<rect x="50.76" y="628.40" width="9.4" height="6.6" fill="#b0a835"/>
<rect x="61.28" y="628.40" width="9.4" height="6.6" fill="#6a6a2a"/>
<rect x="71.80" y="628.40" width="9.4" height="6.6" fill="#251a28"/>
<rect x="82.32" y="628.40" width="9.4" height="6.6" fill="#7a30a0"/>
<text x="94.90" y="633.10" font-size="6.5" text-anchor="start" font-style="italic" fill="#262626" >TMEM123</text>
<rect x="19.20" y="634.40" width="9.4" height="6.0" fill="#4a2260"/>
<rect x="29.72" y="634.40" width="9.4" height="6.0" fill="#3a1f48"/>
<rect x="40.24" y="634.40" width="9.4" height="6.0" fill="#25251a"/>
<rect x="50.76" y="634.40" width="9.4" height="6.0" fill="#c8c038"/>
<rect x="61.28" y="634.40" width="9.4" height="6.0" fill="#1a1518"/>
<rect x="71.80" y="634.40" width="9.4" height="6.0" fill="#6a2a8a"/>
<rect x="82.32" y="634.40" width="9.4" height="6.0" fill="#4a4a22"/>
<text x="94.90" y="639.10" font-size="6.5" text-anchor="start" font-style="italic" fill="#262626" >SAR1A</text>
<text x="23.90" y="646.30" font-size="6.3" text-anchor="middle" fill="#262626" >0</text>
<text x="34.42" y="646.30" font-size="6.3" text-anchor="middle" fill="#262626" >1</text>
<text x="44.94" y="646.30" font-size="6.3" text-anchor="middle" fill="#262626" >2</text>
<text x="55.46" y="646.30" font-size="6.3" text-anchor="middle" fill="#262626" >3</text>
<text x="65.98" y="646.30" font-size="6.3" text-anchor="middle" fill="#262626" >4</text>
<text x="76.50" y="646.30" font-size="6.3" text-anchor="middle" fill="#262626" >6</text>
<text x="87.02" y="646.30" font-size="6.3" text-anchor="middle" fill="#262626" >8</text>
<rect x="50.3" y="517.3" width="10.7" height="131.4" fill="none" stroke="#a8183c" stroke-width="1.1"/>
<text x="143.40" y="574.40" font-size="6.2" text-anchor="middle" fill="#262626" >Average</text>
<text x="143.40" y="582.60" font-size="6.2" text-anchor="middle" fill="#262626" >Scaled</text>
<text x="143.40" y="590.30" font-size="6.2" text-anchor="middle" fill="#262626" >Expression</text>
<rect x="161.5" y="562.7" width="7.5" height="34.1" fill="url(#gD)"/>
<text x="172.00" y="570.30" font-size="6.5" text-anchor="start" fill="#262626" >2</text>
<text x="172.00" y="578.60" font-size="6.5" text-anchor="start" fill="#262626" >1</text>
<text x="172.00" y="586.60" font-size="6.5" text-anchor="start" fill="#262626" >0</text>
<text x="172.00" y="594.90" font-size="6.5" text-anchor="start" fill="#262626" >−1</text>
<line x1="352.60" y1="516.70" x2="352.60" y2="623.80" stroke="#262626" stroke-width="1.0"/>
<line x1="352.10" y1="623.30" x2="511.30" y2="623.30" stroke="#262626" stroke-width="1.0"/>
<line x1="352.60" y1="623.30" x2="352.60" y2="626.30" stroke="#262626" stroke-width="0.9"/>
<text x="352.60" y="635.00" font-size="6.5" text-anchor="middle" fill="#262626" >0</text>
<line x1="391.60" y1="623.30" x2="391.60" y2="626.30" stroke="#262626" stroke-width="0.9"/>
<text x="391.60" y="635.00" font-size="6.5" text-anchor="middle" fill="#262626" >5</text>
<line x1="430.60" y1="623.30" x2="430.60" y2="626.30" stroke="#262626" stroke-width="0.9"/>
<text x="430.60" y="635.00" font-size="6.5" text-anchor="middle" fill="#262626" >10</text>
<line x1="469.60" y1="623.30" x2="469.60" y2="626.30" stroke="#262626" stroke-width="0.9"/>
<text x="469.60" y="635.00" font-size="6.5" text-anchor="middle" fill="#262626" >15</text>
<line x1="508.60" y1="623.30" x2="508.60" y2="626.30" stroke="#262626" stroke-width="0.9"/>
<text x="508.60" y="635.00" font-size="6.5" text-anchor="middle" fill="#262626" >20</text>
<text x="432.2" y="648.1" font-size="8.6" text-anchor="middle" fill="#262626" style="stroke-width:0.3px" textLength="46" lengthAdjust="spacingAndGlyphs">−log10(p-value)</text>
<rect x="352.6" y="522.35" width="118.20" height="6.4" fill="#2c4a84"/>
<line x1="349.40" y1="525.55" x2="352.60" y2="525.55" stroke="#262626" stroke-width="0.9"/>
<text x="346.30" y="527.75" font-size="6.4" text-anchor="end" fill="#262626" >defense response to virus</text>
<rect x="352.6" y="535.07" width="98.20" height="6.4" fill="#2c4a84"/>
<line x1="349.40" y1="538.27" x2="352.60" y2="538.27" stroke="#262626" stroke-width="0.9"/>
<text x="346.30" y="540.47" font-size="6.4" text-anchor="end" fill="#262626" >response to type I interferon</text>
<rect x="352.6" y="547.79" width="70.40" height="6.4" fill="#2c4a84"/>
<line x1="349.40" y1="550.99" x2="352.60" y2="550.99" stroke="#262626" stroke-width="0.9"/>
<text x="346.30" y="553.19" font-size="6.4" text-anchor="end" fill="#262626" >negative regulation of viral genome replication</text>
<rect x="352.6" y="560.51" width="12.30" height="6.4" fill="#2c4a84"/>
<line x1="349.40" y1="563.71" x2="352.60" y2="563.71" stroke="#262626" stroke-width="0.9"/>
<text x="346.30" y="565.91" font-size="6.4" text-anchor="end" fill="#262626" >positive regulation of cytokine production</text>
<rect x="352.6" y="573.23" width="12.00" height="6.4" fill="#2c4a84"/>
<line x1="349.40" y1="576.43" x2="352.60" y2="576.43" stroke="#262626" stroke-width="0.9"/>
<text x="346.30" y="578.63" font-size="6.4" text-anchor="end" fill="#262626" >positive regulation of interferon-alpha production</text>
<rect x="352.6" y="585.95" width="12.00" height="6.4" fill="#2c4a84"/>
<line x1="349.40" y1="589.15" x2="352.60" y2="589.15" stroke="#262626" stroke-width="0.9"/>
<text x="346.30" y="591.35" font-size="6.4" text-anchor="end" fill="#262626" >regulation of type III interferon production</text>
<rect x="352.6" y="598.67" width="9.80" height="6.4" fill="#2c4a84"/>
<line x1="349.40" y1="601.87" x2="352.60" y2="601.87" stroke="#262626" stroke-width="0.9"/>
<text x="346.30" y="604.07" font-size="6.4" text-anchor="end" fill="#262626" >positive regulation of interferon-beta production</text>
<rect x="352.6" y="611.39" width="11.80" height="6.4" fill="#a80c2e"/>
<line x1="349.40" y1="614.59" x2="352.60" y2="614.59" stroke="#262626" stroke-width="0.9"/>
<text x="346.30" y="616.79" font-size="6.4" text-anchor="end" fill="#262626" >cytolysis</text>
<rect x="415.1" y="587.2" width="10.1" height="2.9" fill="#2c4a84"/>
<rect x="415.1" y="597.9" width="10.1" height="2.9" fill="#a80c2e"/>
<text x="428.10" y="590.90" font-size="6.4" text-anchor="start" fill="#262626" >up-regulated</text>
<text x="428.10" y="601.70" font-size="6.4" text-anchor="start" fill="#262626" >down-regulated</text>
<rect x="0.5" y="0.5" width="519" height="657" fill="none" stroke="#000" stroke-width="1"/>
</svg>
</body></html>
